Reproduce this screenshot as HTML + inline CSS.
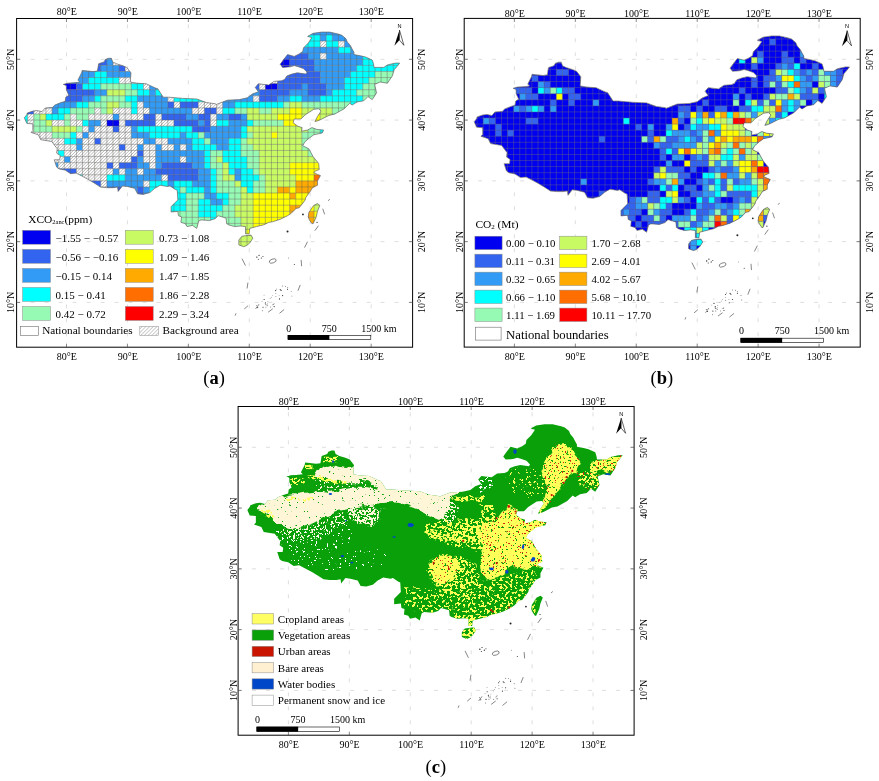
<!DOCTYPE html><html><head><meta charset="utf-8"><title>Figure</title><style>
html,body{margin:0;padding:0;background:#fff}svg{display:block}text{font-family:"Liberation Serif",serif;fill:#000}
</style></head><body>
<svg width="879" height="781" viewBox="0 0 879 781">
<rect width="879" height="781" fill="#fff"/>
<defs><path id="cn" d="M-39.6 64.4 L-37.2 61.4 L-36.6 59.6 L-31.1 57.7 L-26.8 57.1 L-21.9 58.3 L-18.9 54.7 L-11.6 54.1 L-9.1 51.7 L-3.0 49.2 L1.2 48.0 L1.8 43.8 L4.9 41.9 L2.4 36.5 L2.4 32.2 L-0.6 31.0 L3.7 29.8 L12.2 29.2 L15.8 28.6 L14.0 26.7 L17.7 19.4 L18.3 17.0 L29.2 18.2 L33.5 17.6 L34.7 10.3 L40.2 8.5 L41.4 6.1 L44.5 4.9 L47.5 4.9 L48.7 8.5 L52.4 10.3 L58.5 12.2 L62.8 14.0 L67.0 19.4 L66.4 28.6 L73.1 29.8 L82.3 30.4 L91.4 34.6 L93.8 35.3 L99.3 43.8 L104.8 43.8 L118.8 45.0 L132.8 45.6 L142.6 49.2 L151.7 50.4 L152.3 51.1 L163.3 46.8 L175.5 46.2 L183.4 44.4 L188.3 40.7 L194.4 38.3 L191.3 34.0 L194.4 30.4 L204.7 31.6 L210.2 28.0 L217.5 27.4 L220.6 26.1 L223.0 22.5 L227.9 20.7 L233.4 19.4 L241.9 20.7 L243.1 18.8 L239.5 15.2 L234.6 13.4 L230.3 12.2 L226.1 13.4 L218.7 14.0 L216.3 10.9 L219.3 6.7 L223.6 1.2 L230.3 3.0 L235.2 0.6 L238.8 -1.8 L239.5 -5.5 L244.3 -10.3 L248.0 -15.8 L243.7 -17.0 L249.2 -20.1 L257.7 -21.3 L265.7 -21.3 L274.2 -19.4 L277.8 -18.2 L282.1 -14.6 L283.3 -11.5 L286.4 -7.9 L288.2 -4.3 L290.0 -1.2 L290.0 1.2 L296.7 2.4 L301.6 3.6 L308.3 6.7 L309.5 10.3 L310.1 14.0 L319.9 14.0 L323.5 11.5 L331.5 9.7 L335.7 9.7 L333.3 12.8 L330.2 16.4 L328.4 22.5 L323.5 29.8 L316.2 28.6 L310.7 31.0 L312.6 39.5 L308.3 46.2 L304.0 43.2 L299.8 47.4 L293.1 48.6 L288.2 51.7 L285.8 49.8 L280.3 55.3 L270.5 60.8 L265.0 62.0 L256.5 66.3 L253.5 67.5 L251.0 68.1 L253.5 63.2 L257.1 57.7 L254.7 55.3 L249.8 55.9 L241.3 61.4 L237.0 65.6 L230.3 65.6 L229.1 69.3 L234.0 72.9 L238.2 74.2 L237.6 77.8 L243.7 76.6 L248.0 74.2 L252.9 76.0 L259.6 76.6 L258.3 79.6 L249.8 81.4 L245.5 84.5 L240.7 88.7 L238.8 92.4 L244.9 95.4 L249.2 103.3 L254.7 110.0 L255.3 116.1 L251.6 117.6 L249.8 119.1 L253.5 121.0 L256.5 122.2 L253.5 127.6 L253.5 131.9 L248.6 134.3 L245.5 139.2 L241.9 144.0 L241.3 146.5 L238.2 150.7 L235.2 154.4 L232.1 155.0 L227.3 159.9 L223.6 162.3 L216.3 165.9 L208.4 168.4 L204.7 169.0 L199.9 171.4 L192.5 173.2 L185.8 175.0 L185.2 180.5 L181.6 180.5 L181.6 173.2 L176.7 172.6 L170.6 173.2 L164.5 171.4 L162.7 170.2 L162.1 164.7 L154.2 162.3 L151.1 165.3 L145.6 167.1 L137.1 166.5 L134.7 167.8 L132.8 175.0 L128.6 172.0 L123.1 173.2 L121.3 170.2 L117.0 169.0 L117.6 163.5 L114.5 162.3 L113.9 158.0 L107.2 158.6 L107.2 153.2 L113.9 146.5 L113.3 136.8 L111.5 136.1 L106.0 132.5 L103.6 133.1 L96.3 131.9 L90.8 134.9 L85.9 139.2 L79.2 141.0 L73.7 140.4 L70.7 134.9 L63.4 133.1 L58.5 132.5 L54.2 138.0 L53.6 133.7 L49.4 134.3 L42.7 134.3 L36.6 133.7 L31.1 130.1 L25.0 126.4 L18.3 122.8 L12.2 119.7 L6.7 120.3 L1.2 116.7 L-4.9 115.5 L-7.3 113.7 L-9.7 106.4 L-4.3 106.4 L-3.7 102.1 L-7.3 99.7 L-6.7 95.4 L-12.2 88.1 L-23.2 86.3 L-25.6 81.4 L-32.9 79.0 L-31.1 77.2 L-31.1 70.5 L-37.2 69.9 L-39.6 64.4Z M174.9 186.6 L177.9 182.9 L181.6 182.3 L187.1 181.7 L188.9 184.8 L185.8 189.6 L182.8 192.1 L179.7 193.3 L174.9 191.5 L174.9 186.6Z M249.8 152.0 L253.5 150.1 L255.9 152.0 L253.5 158.0 L252.3 163.5 L249.2 170.2 L248.0 170.2 L245.5 166.5 L244.3 163.5 L244.9 159.2 L248.0 154.4 L249.8 152.0Z"/><clipPath id="clipa"><use href="#cn" transform="translate(-2.56 -5.90)"/></clipPath><clipPath id="clipb"><use href="#cn" transform="translate(-0.61 -2.01)"/></clipPath><clipPath id="clipc"><use href="#cn" transform="translate(-1.46 -1.70)"/></clipPath>
<pattern id="hatch" width="2.2" height="2.2" patternUnits="userSpaceOnUse" patternTransform="rotate(-45)"><rect width="2.2" height="2.2" fill="#fff"/><path d="M0 1.1H2.2" stroke="#8a8a8a" stroke-width="0.42"/></pattern>
<pattern id="hatch2" width="2.6" height="2.6" patternUnits="userSpaceOnUse" patternTransform="rotate(-45)"><rect width="2.6" height="2.6" fill="#fff"/><path d="M0 1.3H2.6" stroke="#8a8a8a" stroke-width="0.42"/></pattern>
<clipPath id="clipC"><use href="#cn" transform="translate(288.40 447.30) translate(-1.46 -1.70)"/></clipPath>
<filter id="s0" x="-5%" y="-5%" width="110%" height="110%"><feTurbulence type="fractalNoise" baseFrequency="0.12" numOctaves="2" seed="18" result="w"/><feDisplacementMap in="SourceGraphic" in2="w" scale="7" xChannelSelector="R" yChannelSelector="G" result="d"/><feTurbulence type="fractalNoise" baseFrequency="0.45" numOctaves="2" seed="11" result="n"/><feColorMatrix in="n" type="matrix" values="0 0 0 0 0 0 0 0 0 0 0 0 0 0 0 40 0 0 0 -10.10" result="m"/><feComposite in="d" in2="m" operator="in"/></filter><filter id="s1" x="-5%" y="-5%" width="110%" height="110%"><feTurbulence type="fractalNoise" baseFrequency="0.12" numOctaves="2" seed="19" result="w"/><feDisplacementMap in="SourceGraphic" in2="w" scale="7" xChannelSelector="R" yChannelSelector="G" result="d"/><feTurbulence type="fractalNoise" baseFrequency="0.45" numOctaves="2" seed="12" result="n"/><feColorMatrix in="n" type="matrix" values="0 0 0 0 0 0 0 0 0 0 0 0 0 0 0 40 0 0 0 -18.89" result="m"/><feComposite in="d" in2="m" operator="in"/></filter><filter id="s2" x="-5%" y="-5%" width="110%" height="110%"><feTurbulence type="fractalNoise" baseFrequency="0.12" numOctaves="2" seed="19" result="w"/><feDisplacementMap in="SourceGraphic" in2="w" scale="7" xChannelSelector="R" yChannelSelector="G" result="d"/><feTurbulence type="fractalNoise" baseFrequency="0.45" numOctaves="2" seed="12" result="n"/><feColorMatrix in="n" type="matrix" values="0 0 0 0 0 0 0 0 0 0 0 0 0 0 0 40 0 0 0 -21.29" result="m"/><feComposite in="d" in2="m" operator="in"/></filter><filter id="s3" x="-5%" y="-5%" width="110%" height="110%"><feTurbulence type="fractalNoise" baseFrequency="0.12" numOctaves="2" seed="19" result="w"/><feDisplacementMap in="SourceGraphic" in2="w" scale="7" xChannelSelector="R" yChannelSelector="G" result="d"/><feTurbulence type="fractalNoise" baseFrequency="0.45" numOctaves="2" seed="12" result="n"/><feColorMatrix in="n" type="matrix" values="0 0 0 0 0 0 0 0 0 0 0 0 0 0 0 40 0 0 0 -23.32" result="m"/><feComposite in="d" in2="m" operator="in"/></filter><filter id="s4" x="-5%" y="-5%" width="110%" height="110%"><feTurbulence type="fractalNoise" baseFrequency="0.12" numOctaves="2" seed="20" result="w"/><feDisplacementMap in="SourceGraphic" in2="w" scale="7" xChannelSelector="R" yChannelSelector="G" result="d"/><feTurbulence type="fractalNoise" baseFrequency="0.45" numOctaves="2" seed="13" result="n"/><feColorMatrix in="n" type="matrix" values="0 0 0 0 0 0 0 0 0 0 0 0 0 0 0 40 0 0 0 -14.34" result="m"/><feComposite in="d" in2="m" operator="in"/></filter><filter id="s5" x="-5%" y="-5%" width="110%" height="110%"><feTurbulence type="fractalNoise" baseFrequency="0.12" numOctaves="2" seed="21" result="w"/><feDisplacementMap in="SourceGraphic" in2="w" scale="7" xChannelSelector="R" yChannelSelector="G" result="d"/><feTurbulence type="fractalNoise" baseFrequency="0.45" numOctaves="2" seed="14" result="n"/><feColorMatrix in="n" type="matrix" values="0 0 0 0 0 0 0 0 0 0 0 0 0 0 0 40 0 0 0 -26.81" result="m"/><feComposite in="d" in2="m" operator="in"/></filter><filter id="s6" x="-5%" y="-5%" width="110%" height="110%"><feTurbulence type="fractalNoise" baseFrequency="0.12" numOctaves="2" seed="21" result="w"/><feDisplacementMap in="SourceGraphic" in2="w" scale="7" xChannelSelector="R" yChannelSelector="G" result="d"/><feTurbulence type="fractalNoise" baseFrequency="0.45" numOctaves="2" seed="14" result="n"/><feColorMatrix in="n" type="matrix" values="0 0 0 0 0 0 0 0 0 0 0 0 0 0 0 40 0 0 0 -28.00" result="m"/><feComposite in="d" in2="m" operator="in"/></filter><filter id="s7" x="-5%" y="-5%" width="110%" height="110%"><feTurbulence type="fractalNoise" baseFrequency="0.12" numOctaves="2" seed="21" result="w"/><feDisplacementMap in="SourceGraphic" in2="w" scale="7" xChannelSelector="R" yChannelSelector="G" result="d"/><feTurbulence type="fractalNoise" baseFrequency="0.45" numOctaves="2" seed="14" result="n"/><feColorMatrix in="n" type="matrix" values="0 0 0 0 0 0 0 0 0 0 0 0 0 0 0 40 0 0 0 -23.66" result="m"/><feComposite in="d" in2="m" operator="in"/></filter><filter id="s8" x="-5%" y="-5%" width="110%" height="110%"><feTurbulence type="fractalNoise" baseFrequency="0.12" numOctaves="2" seed="22" result="w"/><feDisplacementMap in="SourceGraphic" in2="w" scale="7" xChannelSelector="R" yChannelSelector="G" result="d"/><feTurbulence type="fractalNoise" baseFrequency="0.45" numOctaves="2" seed="15" result="n"/><feColorMatrix in="n" type="matrix" values="0 0 0 0 0 0 0 0 0 0 0 0 0 0 0 40 0 0 0 -12.49" result="m"/><feComposite in="d" in2="m" operator="in"/></filter><filter id="s9" x="-5%" y="-5%" width="110%" height="110%"><feTurbulence type="fractalNoise" baseFrequency="0.12" numOctaves="2" seed="22" result="w"/><feDisplacementMap in="SourceGraphic" in2="w" scale="7" xChannelSelector="R" yChannelSelector="G" result="d"/><feTurbulence type="fractalNoise" baseFrequency="0.45" numOctaves="2" seed="15" result="n"/><feColorMatrix in="n" type="matrix" values="0 0 0 0 0 0 0 0 0 0 0 0 0 0 0 40 0 0 0 -14.34" result="m"/><feComposite in="d" in2="m" operator="in"/></filter><filter id="s10" x="-5%" y="-5%" width="110%" height="110%"><feTurbulence type="fractalNoise" baseFrequency="0.12" numOctaves="2" seed="22" result="w"/><feDisplacementMap in="SourceGraphic" in2="w" scale="7" xChannelSelector="R" yChannelSelector="G" result="d"/><feTurbulence type="fractalNoise" baseFrequency="0.38" numOctaves="2" seed="15" result="n"/><feColorMatrix in="n" type="matrix" values="0 0 0 0 0 0 0 0 0 0 0 0 0 0 0 40 0 0 0 -20.67" result="m"/><feComposite in="d" in2="m" operator="in"/></filter><filter id="s11" x="-5%" y="-5%" width="110%" height="110%"><feTurbulence type="fractalNoise" baseFrequency="0.12" numOctaves="2" seed="22" result="w"/><feDisplacementMap in="SourceGraphic" in2="w" scale="7" xChannelSelector="R" yChannelSelector="G" result="d"/><feTurbulence type="fractalNoise" baseFrequency="0.45" numOctaves="2" seed="15" result="n"/><feColorMatrix in="n" type="matrix" values="0 0 0 0 0 0 0 0 0 0 0 0 0 0 0 40 0 0 0 -12.20" result="m"/><feComposite in="d" in2="m" operator="in"/></filter><filter id="s12" x="-5%" y="-5%" width="110%" height="110%"><feTurbulence type="fractalNoise" baseFrequency="0.12" numOctaves="2" seed="22" result="w"/><feDisplacementMap in="SourceGraphic" in2="w" scale="7" xChannelSelector="R" yChannelSelector="G" result="d"/><feTurbulence type="fractalNoise" baseFrequency="0.45" numOctaves="2" seed="15" result="n"/><feColorMatrix in="n" type="matrix" values="0 0 0 0 0 0 0 0 0 0 0 0 0 0 0 40 0 0 0 -13.07" result="m"/><feComposite in="d" in2="m" operator="in"/></filter><filter id="s13" x="-5%" y="-5%" width="110%" height="110%"><feTurbulence type="fractalNoise" baseFrequency="0.12" numOctaves="2" seed="22" result="w"/><feDisplacementMap in="SourceGraphic" in2="w" scale="7" xChannelSelector="R" yChannelSelector="G" result="d"/><feTurbulence type="fractalNoise" baseFrequency="0.38" numOctaves="2" seed="15" result="n"/><feColorMatrix in="n" type="matrix" values="0 0 0 0 0 0 0 0 0 0 0 0 0 0 0 40 0 0 0 -20.42" result="m"/><feComposite in="d" in2="m" operator="in"/></filter><filter id="s14" x="-5%" y="-5%" width="110%" height="110%"><feTurbulence type="fractalNoise" baseFrequency="0.12" numOctaves="2" seed="22" result="w"/><feDisplacementMap in="SourceGraphic" in2="w" scale="7" xChannelSelector="R" yChannelSelector="G" result="d"/><feTurbulence type="fractalNoise" baseFrequency="0.38" numOctaves="2" seed="15" result="n"/><feColorMatrix in="n" type="matrix" values="0 0 0 0 0 0 0 0 0 0 0 0 0 0 0 40 0 0 0 -15.27" result="m"/><feComposite in="d" in2="m" operator="in"/></filter><filter id="s15" x="-5%" y="-5%" width="110%" height="110%"><feTurbulence type="fractalNoise" baseFrequency="0.12" numOctaves="2" seed="22" result="w"/><feDisplacementMap in="SourceGraphic" in2="w" scale="7" xChannelSelector="R" yChannelSelector="G" result="d"/><feTurbulence type="fractalNoise" baseFrequency="0.38" numOctaves="2" seed="15" result="n"/><feColorMatrix in="n" type="matrix" values="0 0 0 0 0 0 0 0 0 0 0 0 0 0 0 40 0 0 0 -18.89" result="m"/><feComposite in="d" in2="m" operator="in"/></filter><filter id="s16" x="-5%" y="-5%" width="110%" height="110%"><feTurbulence type="fractalNoise" baseFrequency="0.12" numOctaves="2" seed="22" result="w"/><feDisplacementMap in="SourceGraphic" in2="w" scale="7" xChannelSelector="R" yChannelSelector="G" result="d"/><feTurbulence type="fractalNoise" baseFrequency="0.38" numOctaves="2" seed="15" result="n"/><feColorMatrix in="n" type="matrix" values="0 0 0 0 0 0 0 0 0 0 0 0 0 0 0 40 0 0 0 -18.29" result="m"/><feComposite in="d" in2="m" operator="in"/></filter><filter id="s17" x="-5%" y="-5%" width="110%" height="110%"><feTurbulence type="fractalNoise" baseFrequency="0.12" numOctaves="2" seed="22" result="w"/><feDisplacementMap in="SourceGraphic" in2="w" scale="7" xChannelSelector="R" yChannelSelector="G" result="d"/><feTurbulence type="fractalNoise" baseFrequency="0.38" numOctaves="2" seed="15" result="n"/><feColorMatrix in="n" type="matrix" values="0 0 0 0 0 0 0 0 0 0 0 0 0 0 0 40 0 0 0 -19.48" result="m"/><feComposite in="d" in2="m" operator="in"/></filter><filter id="s18" x="-5%" y="-5%" width="110%" height="110%"><feTurbulence type="fractalNoise" baseFrequency="0.12" numOctaves="2" seed="22" result="w"/><feDisplacementMap in="SourceGraphic" in2="w" scale="7" xChannelSelector="R" yChannelSelector="G" result="d"/><feTurbulence type="fractalNoise" baseFrequency="0.38" numOctaves="2" seed="15" result="n"/><feColorMatrix in="n" type="matrix" values="0 0 0 0 0 0 0 0 0 0 0 0 0 0 0 40 0 0 0 -22.47" result="m"/><feComposite in="d" in2="m" operator="in"/></filter><filter id="s19" x="-5%" y="-5%" width="110%" height="110%"><feTurbulence type="fractalNoise" baseFrequency="0.12" numOctaves="2" seed="22" result="w"/><feDisplacementMap in="SourceGraphic" in2="w" scale="7" xChannelSelector="R" yChannelSelector="G" result="d"/><feTurbulence type="fractalNoise" baseFrequency="0.38" numOctaves="2" seed="15" result="n"/><feColorMatrix in="n" type="matrix" values="0 0 0 0 0 0 0 0 0 0 0 0 0 0 0 40 0 0 0 -23.32" result="m"/><feComposite in="d" in2="m" operator="in"/></filter><filter id="s20" x="-5%" y="-5%" width="110%" height="110%"><feTurbulence type="fractalNoise" baseFrequency="0.12" numOctaves="2" seed="22" result="w"/><feDisplacementMap in="SourceGraphic" in2="w" scale="7" xChannelSelector="R" yChannelSelector="G" result="d"/><feTurbulence type="fractalNoise" baseFrequency="0.38" numOctaves="2" seed="15" result="n"/><feColorMatrix in="n" type="matrix" values="0 0 0 0 0 0 0 0 0 0 0 0 0 0 0 40 0 0 0 -25.46" result="m"/><feComposite in="d" in2="m" operator="in"/></filter><filter id="s21" x="-5%" y="-5%" width="110%" height="110%"><feTurbulence type="fractalNoise" baseFrequency="0.12" numOctaves="2" seed="22" result="w"/><feDisplacementMap in="SourceGraphic" in2="w" scale="7" xChannelSelector="R" yChannelSelector="G" result="d"/><feTurbulence type="fractalNoise" baseFrequency="0.38" numOctaves="2" seed="15" result="n"/><feColorMatrix in="n" type="matrix" values="0 0 0 0 0 0 0 0 0 0 0 0 0 0 0 40 0 0 0 -22.02" result="m"/><feComposite in="d" in2="m" operator="in"/></filter><filter id="s22" x="-5%" y="-5%" width="110%" height="110%"><feTurbulence type="fractalNoise" baseFrequency="0.12" numOctaves="2" seed="22" result="w"/><feDisplacementMap in="SourceGraphic" in2="w" scale="7" xChannelSelector="R" yChannelSelector="G" result="d"/><feTurbulence type="fractalNoise" baseFrequency="0.38" numOctaves="2" seed="15" result="n"/><feColorMatrix in="n" type="matrix" values="0 0 0 0 0 0 0 0 0 0 0 0 0 0 0 40 0 0 0 -16.94" result="m"/><feComposite in="d" in2="m" operator="in"/></filter><filter id="s23" x="-5%" y="-5%" width="110%" height="110%"><feTurbulence type="fractalNoise" baseFrequency="0.12" numOctaves="2" seed="22" result="w"/><feDisplacementMap in="SourceGraphic" in2="w" scale="7" xChannelSelector="R" yChannelSelector="G" result="d"/><feTurbulence type="fractalNoise" baseFrequency="0.38" numOctaves="2" seed="15" result="n"/><feColorMatrix in="n" type="matrix" values="0 0 0 0 0 0 0 0 0 0 0 0 0 0 0 40 0 0 0 -20.06" result="m"/><feComposite in="d" in2="m" operator="in"/></filter><filter id="s24" x="-5%" y="-5%" width="110%" height="110%"><feTurbulence type="fractalNoise" baseFrequency="0.12" numOctaves="2" seed="23" result="w"/><feDisplacementMap in="SourceGraphic" in2="w" scale="7" xChannelSelector="R" yChannelSelector="G" result="d"/><feTurbulence type="fractalNoise" baseFrequency="0.60" numOctaves="2" seed="16" result="n"/><feColorMatrix in="n" type="matrix" values="0 0 0 0 0 0 0 0 0 0 0 0 0 0 0 40 0 0 0 -28.00" result="m"/><feComposite in="d" in2="m" operator="in"/></filter>
</defs>
<path d="M66.50 18.50V347.20M127.43 18.50V347.20M188.36 18.50V347.20M249.29 18.50V347.20M310.22 18.50V347.20M371.15 18.50V347.20" stroke="#c8c8c8" stroke-width="0.6" stroke-dasharray="3.9 10.1" stroke-dashoffset="8.1" fill="none"/><path d="M16.60 302.42H412.60M16.60 241.64H412.60M16.60 180.86H412.60M16.60 120.08H412.60M16.60 59.30H412.60" stroke="#c8c8c8" stroke-width="0.6" stroke-dasharray="3.9 10.1" fill="none"/>
<g transform="translate(66.50 59.30)">
<g clip-path="url(#clipa)"><use href="#cn" transform="translate(-2.56 -5.90)" fill="#fff"/><rect x="241.47" y="-30.39" width="36.61" height="6.13" fill="#329bf5"/><rect x="241.47" y="-24.31" width="12.24" height="6.13" fill="#00ffff"/><rect x="253.66" y="-24.31" width="6.14" height="6.13" fill="#329bf5"/><rect x="259.75" y="-24.31" width="6.14" height="6.13" fill="#00ffff"/><rect x="265.84" y="-24.31" width="18.33" height="6.13" fill="#329bf5"/><rect x="235.38" y="-18.23" width="18.33" height="6.13" fill="#00ffff"/><rect x="253.66" y="-18.23" width="6.14" height="6.13" fill="url(#hatch)"/><rect x="259.75" y="-18.23" width="12.24" height="6.13" fill="#00ffff"/><rect x="271.94" y="-18.23" width="6.14" height="6.13" fill="url(#hatch)"/><rect x="278.03" y="-18.23" width="6.14" height="6.13" fill="#329bf5"/><rect x="229.28" y="-12.16" width="42.70" height="6.13" fill="#329bf5"/><rect x="271.94" y="-12.16" width="12.24" height="6.13" fill="#00ffff"/><rect x="284.12" y="-12.16" width="6.14" height="6.13" fill="#329bf5"/><rect x="40.40" y="-6.08" width="6.14" height="6.13" fill="#329bf5"/><rect x="217.10" y="-6.08" width="24.42" height="6.13" fill="#3264f0"/><rect x="241.47" y="-6.08" width="12.24" height="6.13" fill="#329bf5"/><rect x="253.66" y="-6.08" width="6.14" height="6.13" fill="url(#hatch)"/><rect x="259.75" y="-6.08" width="36.61" height="6.13" fill="#329bf5"/><rect x="296.31" y="-6.08" width="12.24" height="6.13" fill="#00ffff"/><rect x="28.21" y="0.00" width="12.24" height="6.13" fill="#3264f0"/><rect x="40.40" y="0.00" width="6.14" height="6.13" fill="#329bf5"/><rect x="46.49" y="0.00" width="12.24" height="6.13" fill="url(#hatch)"/><rect x="211.00" y="0.00" width="12.24" height="6.13" fill="#0000f0"/><rect x="223.19" y="0.00" width="24.42" height="6.13" fill="#3264f0"/><rect x="247.56" y="0.00" width="48.79" height="6.13" fill="#329bf5"/><rect x="296.31" y="0.00" width="12.24" height="6.13" fill="#00ffff"/><rect x="320.68" y="0.00" width="18.33" height="6.13" fill="#00ffff"/><rect x="9.94" y="6.08" width="12.24" height="6.13" fill="#329bf5"/><rect x="22.12" y="6.08" width="12.24" height="6.13" fill="#3264f0"/><rect x="34.31" y="6.08" width="18.33" height="6.13" fill="#329bf5"/><rect x="52.59" y="6.08" width="6.14" height="6.13" fill="#3264f0"/><rect x="58.68" y="6.08" width="6.14" height="6.13" fill="url(#hatch)"/><rect x="211.00" y="6.08" width="12.24" height="6.13" fill="#0000f0"/><rect x="223.19" y="6.08" width="24.42" height="6.13" fill="#3264f0"/><rect x="247.56" y="6.08" width="42.70" height="6.13" fill="#329bf5"/><rect x="290.21" y="6.08" width="42.70" height="6.13" fill="#00ffff"/><rect x="9.94" y="12.16" width="18.33" height="6.13" fill="#329bf5"/><rect x="28.21" y="12.16" width="12.24" height="6.13" fill="#00ffff"/><rect x="40.40" y="12.16" width="24.42" height="6.13" fill="#329bf5"/><rect x="217.10" y="12.16" width="36.61" height="6.13" fill="#3264f0"/><rect x="253.66" y="12.16" width="30.52" height="6.13" fill="#329bf5"/><rect x="284.12" y="12.16" width="24.42" height="6.13" fill="#00ffff"/><rect x="308.49" y="12.16" width="24.42" height="6.13" fill="#96fab4"/><rect x="-2.25" y="18.23" width="6.14" height="6.13" fill="#0000f0"/><rect x="3.84" y="18.23" width="18.33" height="6.13" fill="#329bf5"/><rect x="22.12" y="18.23" width="30.52" height="6.13" fill="#00ffff"/><rect x="52.59" y="18.23" width="18.33" height="6.13" fill="url(#hatch)"/><rect x="70.87" y="18.23" width="6.14" height="6.13" fill="#00ffff"/><rect x="204.91" y="18.23" width="6.14" height="6.13" fill="url(#hatch)"/><rect x="211.00" y="18.23" width="42.70" height="6.13" fill="#3264f0"/><rect x="253.66" y="18.23" width="24.42" height="6.13" fill="#329bf5"/><rect x="278.03" y="18.23" width="24.42" height="6.13" fill="#00ffff"/><rect x="302.40" y="18.23" width="30.52" height="6.13" fill="#96fab4"/><rect x="-8.34" y="24.31" width="18.33" height="6.13" fill="#0000f0"/><rect x="9.94" y="24.31" width="6.14" height="6.13" fill="#3264f0"/><rect x="16.03" y="24.31" width="18.33" height="6.13" fill="#00ffff"/><rect x="34.31" y="24.31" width="30.52" height="6.13" fill="#96fab4"/><rect x="64.77" y="24.31" width="12.24" height="6.13" fill="#00ffff"/><rect x="76.96" y="24.31" width="6.14" height="6.13" fill="url(#hatch)"/><rect x="83.05" y="24.31" width="12.24" height="6.13" fill="#329bf5"/><rect x="186.63" y="24.31" width="6.14" height="6.13" fill="#3264f0"/><rect x="192.73" y="24.31" width="6.14" height="6.13" fill="url(#hatch)"/><rect x="198.82" y="24.31" width="12.24" height="6.13" fill="#0000f0"/><rect x="211.00" y="24.31" width="24.42" height="6.13" fill="#3264f0"/><rect x="235.38" y="24.31" width="6.14" height="6.13" fill="#329bf5"/><rect x="241.47" y="24.31" width="18.33" height="6.13" fill="#3264f0"/><rect x="259.75" y="24.31" width="18.33" height="6.13" fill="#329bf5"/><rect x="278.03" y="24.31" width="18.33" height="6.13" fill="#00ffff"/><rect x="296.31" y="24.31" width="18.33" height="6.13" fill="#96fab4"/><rect x="-2.25" y="30.39" width="30.52" height="6.13" fill="#3264f0"/><rect x="28.21" y="30.39" width="12.24" height="6.13" fill="#329bf5"/><rect x="40.40" y="30.39" width="18.33" height="6.13" fill="#c8fa64"/><rect x="58.68" y="30.39" width="12.24" height="6.13" fill="#96fab4"/><rect x="70.87" y="30.39" width="12.24" height="6.13" fill="#00ffff"/><rect x="83.05" y="30.39" width="6.14" height="6.13" fill="#329bf5"/><rect x="89.14" y="30.39" width="6.14" height="6.13" fill="#00ffff"/><rect x="180.54" y="30.39" width="12.24" height="6.13" fill="#329bf5"/><rect x="192.73" y="30.39" width="30.52" height="6.13" fill="#3264f0"/><rect x="223.19" y="30.39" width="18.33" height="6.13" fill="#329bf5"/><rect x="241.47" y="30.39" width="18.33" height="6.13" fill="#3264f0"/><rect x="259.75" y="30.39" width="6.14" height="6.13" fill="#329bf5"/><rect x="265.84" y="30.39" width="24.42" height="6.13" fill="#00ffff"/><rect x="290.21" y="30.39" width="24.42" height="6.13" fill="#96fab4"/><rect x="-8.34" y="36.47" width="24.42" height="6.13" fill="#3264f0"/><rect x="16.03" y="36.47" width="12.24" height="6.13" fill="#329bf5"/><rect x="28.21" y="36.47" width="6.14" height="6.13" fill="#00ffff"/><rect x="34.31" y="36.47" width="24.42" height="6.13" fill="#96fab4"/><rect x="58.68" y="36.47" width="12.24" height="6.13" fill="#00ffff"/><rect x="70.87" y="36.47" width="30.52" height="6.13" fill="#329bf5"/><rect x="101.33" y="36.47" width="6.14" height="6.13" fill="url(#hatch)"/><rect x="107.42" y="36.47" width="30.52" height="6.13" fill="#00ffff"/><rect x="156.17" y="36.47" width="30.52" height="6.13" fill="#329bf5"/><rect x="186.63" y="36.47" width="6.14" height="6.13" fill="url(#hatch)"/><rect x="192.73" y="36.47" width="18.33" height="6.13" fill="#3264f0"/><rect x="211.00" y="36.47" width="12.24" height="6.13" fill="#329bf5"/><rect x="223.19" y="36.47" width="12.24" height="6.13" fill="#00ffff"/><rect x="235.38" y="36.47" width="18.33" height="6.13" fill="#329bf5"/><rect x="253.66" y="36.47" width="42.70" height="6.13" fill="#00ffff"/><rect x="296.31" y="36.47" width="12.24" height="6.13" fill="#96fab4"/><rect x="-20.53" y="42.55" width="30.52" height="6.13" fill="#329bf5"/><rect x="9.94" y="42.55" width="12.24" height="6.13" fill="#00ffff"/><rect x="22.12" y="42.55" width="18.33" height="6.13" fill="#96fab4"/><rect x="40.40" y="42.55" width="12.24" height="6.13" fill="#c8fa64"/><rect x="52.59" y="42.55" width="12.24" height="6.13" fill="#96fab4"/><rect x="64.77" y="42.55" width="6.14" height="6.13" fill="#00ffff"/><rect x="70.87" y="42.55" width="6.14" height="6.13" fill="url(#hatch)"/><rect x="76.96" y="42.55" width="24.42" height="6.13" fill="#329bf5"/><rect x="101.33" y="42.55" width="6.14" height="6.13" fill="#3264f0"/><rect x="107.42" y="42.55" width="6.14" height="6.13" fill="url(#hatch)"/><rect x="113.52" y="42.55" width="18.33" height="6.13" fill="#3264f0"/><rect x="131.80" y="42.55" width="24.42" height="6.13" fill="url(#hatch)"/><rect x="156.17" y="42.55" width="12.24" height="6.13" fill="#329bf5"/><rect x="168.35" y="42.55" width="48.79" height="6.13" fill="#00ffff"/><rect x="217.10" y="42.55" width="6.14" height="6.13" fill="#96fab4"/><rect x="223.19" y="42.55" width="12.24" height="6.13" fill="#c8fa64"/><rect x="235.38" y="42.55" width="48.79" height="6.13" fill="#96fab4"/><rect x="284.12" y="42.55" width="6.14" height="6.13" fill="#00ffff"/><rect x="-44.90" y="48.62" width="12.24" height="6.13" fill="#3264f0"/><rect x="-32.72" y="48.62" width="18.33" height="6.13" fill="url(#hatch)"/><rect x="-14.44" y="48.62" width="6.14" height="6.13" fill="#329bf5"/><rect x="-8.34" y="48.62" width="12.24" height="6.13" fill="#00ffff"/><rect x="3.84" y="48.62" width="24.42" height="6.13" fill="#96fab4"/><rect x="28.21" y="48.62" width="6.14" height="6.13" fill="url(#hatch)"/><rect x="34.31" y="48.62" width="6.14" height="6.13" fill="#96fab4"/><rect x="40.40" y="48.62" width="6.14" height="6.13" fill="#c8fa64"/><rect x="46.49" y="48.62" width="18.33" height="6.13" fill="url(#hatch)"/><rect x="64.77" y="48.62" width="6.14" height="6.13" fill="#00ffff"/><rect x="70.87" y="48.62" width="12.24" height="6.13" fill="url(#hatch)"/><rect x="83.05" y="48.62" width="42.70" height="6.13" fill="#329bf5"/><rect x="125.70" y="48.62" width="12.24" height="6.13" fill="url(#hatch)"/><rect x="137.89" y="48.62" width="12.24" height="6.13" fill="#3264f0"/><rect x="150.07" y="48.62" width="6.14" height="6.13" fill="url(#hatch)"/><rect x="156.17" y="48.62" width="12.24" height="6.13" fill="#00ffff"/><rect x="168.35" y="48.62" width="12.24" height="6.13" fill="#96fab4"/><rect x="180.54" y="48.62" width="12.24" height="6.13" fill="#c8fa64"/><rect x="192.73" y="48.62" width="12.24" height="6.13" fill="#96fab4"/><rect x="204.91" y="48.62" width="18.33" height="6.13" fill="#c8fa64"/><rect x="223.19" y="48.62" width="12.24" height="6.13" fill="#ffff00"/><rect x="235.38" y="48.62" width="12.24" height="6.13" fill="#c8fa64"/><rect x="247.56" y="48.62" width="6.14" height="6.13" fill="#96fab4"/><rect x="253.66" y="48.62" width="12.24" height="6.13" fill="#c8fa64"/><rect x="265.84" y="48.62" width="12.24" height="6.13" fill="#96fab4"/><rect x="-44.90" y="54.70" width="6.14" height="6.13" fill="#00ffff"/><rect x="-38.81" y="54.70" width="6.14" height="6.13" fill="url(#hatch)"/><rect x="-32.72" y="54.70" width="6.14" height="6.13" fill="#96fab4"/><rect x="-26.62" y="54.70" width="6.14" height="6.13" fill="#c8fa64"/><rect x="-20.53" y="54.70" width="18.33" height="6.13" fill="#00ffff"/><rect x="-2.25" y="54.70" width="6.14" height="6.13" fill="#96fab4"/><rect x="3.84" y="54.70" width="6.14" height="6.13" fill="url(#hatch)"/><rect x="9.94" y="54.70" width="12.24" height="6.13" fill="#96fab4"/><rect x="22.12" y="54.70" width="24.42" height="6.13" fill="url(#hatch)"/><rect x="46.49" y="54.70" width="6.14" height="6.13" fill="#329bf5"/><rect x="52.59" y="54.70" width="24.42" height="6.13" fill="url(#hatch)"/><rect x="76.96" y="54.70" width="12.24" height="6.13" fill="#3264f0"/><rect x="89.14" y="54.70" width="6.14" height="6.13" fill="url(#hatch)"/><rect x="95.24" y="54.70" width="24.42" height="6.13" fill="#3264f0"/><rect x="119.61" y="54.70" width="12.24" height="6.13" fill="#329bf5"/><rect x="131.80" y="54.70" width="12.24" height="6.13" fill="#3264f0"/><rect x="143.98" y="54.70" width="6.14" height="6.13" fill="url(#hatch)"/><rect x="150.07" y="54.70" width="12.24" height="6.13" fill="#329bf5"/><rect x="162.26" y="54.70" width="12.24" height="6.13" fill="#3264f0"/><rect x="174.45" y="54.70" width="6.14" height="6.13" fill="#329bf5"/><rect x="180.54" y="54.70" width="30.52" height="6.13" fill="#c8fa64"/><rect x="211.00" y="54.70" width="24.42" height="6.13" fill="#ffff00"/><rect x="235.38" y="54.70" width="6.14" height="6.13" fill="#c8fa64"/><rect x="247.56" y="54.70" width="6.14" height="6.13" fill="#ffff00"/><rect x="253.66" y="54.70" width="12.24" height="6.13" fill="#c8fa64"/><rect x="265.84" y="54.70" width="6.14" height="6.13" fill="#96fab4"/><rect x="-44.90" y="60.78" width="6.14" height="6.13" fill="#00ffff"/><rect x="-38.81" y="60.78" width="6.14" height="6.13" fill="url(#hatch)"/><rect x="-32.72" y="60.78" width="12.24" height="6.13" fill="#96fab4"/><rect x="-20.53" y="60.78" width="6.14" height="6.13" fill="#c8fa64"/><rect x="-14.44" y="60.78" width="12.24" height="6.13" fill="url(#hatch)"/><rect x="-2.25" y="60.78" width="6.14" height="6.13" fill="#96fab4"/><rect x="3.84" y="60.78" width="12.24" height="6.13" fill="url(#hatch)"/><rect x="16.03" y="60.78" width="6.14" height="6.13" fill="#00ffff"/><rect x="22.12" y="60.78" width="12.24" height="6.13" fill="#329bf5"/><rect x="34.31" y="60.78" width="6.14" height="6.13" fill="url(#hatch)"/><rect x="40.40" y="60.78" width="12.24" height="6.13" fill="#0000f0"/><rect x="52.59" y="60.78" width="6.14" height="6.13" fill="url(#hatch)"/><rect x="58.68" y="60.78" width="30.52" height="6.13" fill="#3264f0"/><rect x="89.14" y="60.78" width="18.33" height="6.13" fill="url(#hatch)"/><rect x="107.42" y="60.78" width="24.42" height="6.13" fill="#3264f0"/><rect x="131.80" y="60.78" width="6.14" height="6.13" fill="#329bf5"/><rect x="137.89" y="60.78" width="6.14" height="6.13" fill="#3264f0"/><rect x="143.98" y="60.78" width="6.14" height="6.13" fill="url(#hatch)"/><rect x="150.07" y="60.78" width="12.24" height="6.13" fill="#00ffff"/><rect x="162.26" y="60.78" width="18.33" height="6.13" fill="#329bf5"/><rect x="180.54" y="60.78" width="6.14" height="6.13" fill="#00ffff"/><rect x="186.63" y="60.78" width="30.52" height="6.13" fill="#96fab4"/><rect x="217.10" y="60.78" width="18.33" height="6.13" fill="#ffff00"/><rect x="247.56" y="60.78" width="6.14" height="6.13" fill="#ffff00"/><rect x="-38.81" y="66.86" width="6.14" height="6.13" fill="url(#hatch)"/><rect x="-32.72" y="66.86" width="18.33" height="6.13" fill="#96fab4"/><rect x="-14.44" y="66.86" width="24.42" height="6.13" fill="#c8fa64"/><rect x="9.94" y="66.86" width="6.14" height="6.13" fill="#96fab4"/><rect x="16.03" y="66.86" width="6.14" height="6.13" fill="url(#hatch)"/><rect x="22.12" y="66.86" width="6.14" height="6.13" fill="#329bf5"/><rect x="28.21" y="66.86" width="18.33" height="6.13" fill="url(#hatch)"/><rect x="46.49" y="66.86" width="6.14" height="6.13" fill="#3264f0"/><rect x="52.59" y="66.86" width="12.24" height="6.13" fill="url(#hatch)"/><rect x="64.77" y="66.86" width="6.14" height="6.13" fill="#329bf5"/><rect x="70.87" y="66.86" width="54.89" height="6.13" fill="#00ffff"/><rect x="125.70" y="66.86" width="18.33" height="6.13" fill="#3264f0"/><rect x="143.98" y="66.86" width="30.52" height="6.13" fill="#329bf5"/><rect x="174.45" y="66.86" width="6.14" height="6.13" fill="#00ffff"/><rect x="180.54" y="66.86" width="60.98" height="6.13" fill="#c8fa64"/><rect x="241.47" y="66.86" width="12.24" height="6.13" fill="#96fab4"/><rect x="253.66" y="66.86" width="6.14" height="6.13" fill="#00ffff"/><rect x="-38.81" y="72.94" width="24.42" height="6.13" fill="url(#hatch)"/><rect x="-14.44" y="72.94" width="18.33" height="6.13" fill="#96fab4"/><rect x="3.84" y="72.94" width="6.14" height="6.13" fill="#00ffff"/><rect x="9.94" y="72.94" width="6.14" height="6.13" fill="url(#hatch)"/><rect x="16.03" y="72.94" width="6.14" height="6.13" fill="#329bf5"/><rect x="22.12" y="72.94" width="42.70" height="6.13" fill="url(#hatch)"/><rect x="64.77" y="72.94" width="18.33" height="6.13" fill="#329bf5"/><rect x="83.05" y="72.94" width="30.52" height="6.13" fill="#00ffff"/><rect x="113.52" y="72.94" width="6.14" height="6.13" fill="#329bf5"/><rect x="119.61" y="72.94" width="12.24" height="6.13" fill="#00ffff"/><rect x="131.80" y="72.94" width="6.14" height="6.13" fill="#96fab4"/><rect x="137.89" y="72.94" width="36.61" height="6.13" fill="#329bf5"/><rect x="174.45" y="72.94" width="6.14" height="6.13" fill="#00ffff"/><rect x="180.54" y="72.94" width="6.14" height="6.13" fill="#96fab4"/><rect x="186.63" y="72.94" width="18.33" height="6.13" fill="#c8fa64"/><rect x="204.91" y="72.94" width="6.14" height="6.13" fill="#ffff00"/><rect x="211.00" y="72.94" width="24.42" height="6.13" fill="#c8fa64"/><rect x="235.38" y="72.94" width="18.33" height="6.13" fill="#96fab4"/><rect x="253.66" y="72.94" width="6.14" height="6.13" fill="#00ffff"/><rect x="-26.62" y="79.01" width="24.42" height="6.13" fill="url(#hatch)"/><rect x="-2.25" y="79.01" width="12.24" height="6.13" fill="#00ffff"/><rect x="9.94" y="79.01" width="6.14" height="6.13" fill="#329bf5"/><rect x="16.03" y="79.01" width="12.24" height="6.13" fill="url(#hatch)"/><rect x="28.21" y="79.01" width="6.14" height="6.13" fill="#3264f0"/><rect x="34.31" y="79.01" width="42.70" height="6.13" fill="url(#hatch)"/><rect x="76.96" y="79.01" width="12.24" height="6.13" fill="#329bf5"/><rect x="89.14" y="79.01" width="12.24" height="6.13" fill="url(#hatch)"/><rect x="101.33" y="79.01" width="24.42" height="6.13" fill="#329bf5"/><rect x="125.70" y="79.01" width="12.24" height="6.13" fill="#00ffff"/><rect x="137.89" y="79.01" width="6.14" height="6.13" fill="#96fab4"/><rect x="143.98" y="79.01" width="18.33" height="6.13" fill="#329bf5"/><rect x="162.26" y="79.01" width="12.24" height="6.13" fill="#00ffff"/><rect x="174.45" y="79.01" width="6.14" height="6.13" fill="#96fab4"/><rect x="180.54" y="79.01" width="54.89" height="6.13" fill="#c8fa64"/><rect x="235.38" y="79.01" width="12.24" height="6.13" fill="#96fab4"/><rect x="-14.44" y="85.09" width="24.42" height="6.13" fill="url(#hatch)"/><rect x="9.94" y="85.09" width="6.14" height="6.13" fill="#329bf5"/><rect x="16.03" y="85.09" width="36.61" height="6.13" fill="url(#hatch)"/><rect x="52.59" y="85.09" width="6.14" height="6.13" fill="#3264f0"/><rect x="58.68" y="85.09" width="12.24" height="6.13" fill="url(#hatch)"/><rect x="70.87" y="85.09" width="6.14" height="6.13" fill="#329bf5"/><rect x="76.96" y="85.09" width="12.24" height="6.13" fill="url(#hatch)"/><rect x="89.14" y="85.09" width="6.14" height="6.13" fill="#329bf5"/><rect x="95.24" y="85.09" width="12.24" height="6.13" fill="url(#hatch)"/><rect x="107.42" y="85.09" width="6.14" height="6.13" fill="#329bf5"/><rect x="113.52" y="85.09" width="6.14" height="6.13" fill="url(#hatch)"/><rect x="119.61" y="85.09" width="6.14" height="6.13" fill="#329bf5"/><rect x="125.70" y="85.09" width="24.42" height="6.13" fill="#00ffff"/><rect x="150.07" y="85.09" width="12.24" height="6.13" fill="#329bf5"/><rect x="162.26" y="85.09" width="12.24" height="6.13" fill="#00ffff"/><rect x="174.45" y="85.09" width="12.24" height="6.13" fill="#96fab4"/><rect x="186.63" y="85.09" width="48.79" height="6.13" fill="#c8fa64"/><rect x="235.38" y="85.09" width="12.24" height="6.13" fill="#96fab4"/><rect x="-14.44" y="91.17" width="6.14" height="6.13" fill="url(#hatch)"/><rect x="-8.34" y="91.17" width="6.14" height="6.13" fill="#00ffff"/><rect x="-2.25" y="91.17" width="73.17" height="6.13" fill="url(#hatch)"/><rect x="70.87" y="91.17" width="6.14" height="6.13" fill="#3264f0"/><rect x="76.96" y="91.17" width="12.24" height="6.13" fill="url(#hatch)"/><rect x="89.14" y="91.17" width="48.79" height="6.13" fill="#329bf5"/><rect x="137.89" y="91.17" width="6.14" height="6.13" fill="#00ffff"/><rect x="143.98" y="91.17" width="12.24" height="6.13" fill="#96fab4"/><rect x="156.17" y="91.17" width="18.33" height="6.13" fill="#00ffff"/><rect x="174.45" y="91.17" width="18.33" height="6.13" fill="#96fab4"/><rect x="192.73" y="91.17" width="48.79" height="6.13" fill="#c8fa64"/><rect x="241.47" y="91.17" width="6.14" height="6.13" fill="#96fab4"/><rect x="-14.44" y="97.25" width="12.24" height="6.13" fill="url(#hatch)"/><rect x="-2.25" y="97.25" width="6.14" height="6.13" fill="#329bf5"/><rect x="3.84" y="97.25" width="60.98" height="6.13" fill="url(#hatch)"/><rect x="64.77" y="97.25" width="6.14" height="6.13" fill="#3264f0"/><rect x="70.87" y="97.25" width="6.14" height="6.13" fill="#329bf5"/><rect x="76.96" y="97.25" width="12.24" height="6.13" fill="url(#hatch)"/><rect x="89.14" y="97.25" width="24.42" height="6.13" fill="#329bf5"/><rect x="113.52" y="97.25" width="6.14" height="6.13" fill="url(#hatch)"/><rect x="119.61" y="97.25" width="18.33" height="6.13" fill="#329bf5"/><rect x="137.89" y="97.25" width="6.14" height="6.13" fill="#00ffff"/><rect x="143.98" y="97.25" width="6.14" height="6.13" fill="#96fab4"/><rect x="150.07" y="97.25" width="6.14" height="6.13" fill="#c8fa64"/><rect x="156.17" y="97.25" width="24.42" height="6.13" fill="#00ffff"/><rect x="180.54" y="97.25" width="12.24" height="6.13" fill="#96fab4"/><rect x="192.73" y="97.25" width="60.98" height="6.13" fill="#c8fa64"/><rect x="-14.44" y="103.33" width="6.14" height="6.13" fill="#329bf5"/><rect x="-8.34" y="103.33" width="48.79" height="6.13" fill="url(#hatch)"/><rect x="40.40" y="103.33" width="6.14" height="6.13" fill="#3264f0"/><rect x="46.49" y="103.33" width="6.14" height="6.13" fill="url(#hatch)"/><rect x="52.59" y="103.33" width="18.33" height="6.13" fill="#3264f0"/><rect x="70.87" y="103.33" width="12.24" height="6.13" fill="#329bf5"/><rect x="83.05" y="103.33" width="6.14" height="6.13" fill="url(#hatch)"/><rect x="89.14" y="103.33" width="6.14" height="6.13" fill="#329bf5"/><rect x="95.24" y="103.33" width="30.52" height="6.13" fill="#3264f0"/><rect x="125.70" y="103.33" width="12.24" height="6.13" fill="#329bf5"/><rect x="137.89" y="103.33" width="6.14" height="6.13" fill="#00ffff"/><rect x="143.98" y="103.33" width="12.24" height="6.13" fill="#96fab4"/><rect x="156.17" y="103.33" width="6.14" height="6.13" fill="#c8fa64"/><rect x="162.26" y="103.33" width="18.33" height="6.13" fill="#00ffff"/><rect x="180.54" y="103.33" width="12.24" height="6.13" fill="#96fab4"/><rect x="192.73" y="103.33" width="30.52" height="6.13" fill="#c8fa64"/><rect x="223.19" y="103.33" width="30.52" height="6.13" fill="#ffff00"/><rect x="-8.34" y="109.40" width="18.33" height="6.13" fill="#3264f0"/><rect x="9.94" y="109.40" width="36.61" height="6.13" fill="url(#hatch)"/><rect x="46.49" y="109.40" width="6.14" height="6.13" fill="#329bf5"/><rect x="52.59" y="109.40" width="6.14" height="6.13" fill="url(#hatch)"/><rect x="58.68" y="109.40" width="12.24" height="6.13" fill="#329bf5"/><rect x="70.87" y="109.40" width="6.14" height="6.13" fill="url(#hatch)"/><rect x="76.96" y="109.40" width="12.24" height="6.13" fill="#329bf5"/><rect x="89.14" y="109.40" width="42.70" height="6.13" fill="#3264f0"/><rect x="131.80" y="109.40" width="12.24" height="6.13" fill="#329bf5"/><rect x="143.98" y="109.40" width="6.14" height="6.13" fill="#00ffff"/><rect x="150.07" y="109.40" width="6.14" height="6.13" fill="#96fab4"/><rect x="156.17" y="109.40" width="6.14" height="6.13" fill="#c8fa64"/><rect x="162.26" y="109.40" width="6.14" height="6.13" fill="#00ffff"/><rect x="168.35" y="109.40" width="6.14" height="6.13" fill="#329bf5"/><rect x="174.45" y="109.40" width="12.24" height="6.13" fill="#00ffff"/><rect x="186.63" y="109.40" width="6.14" height="6.13" fill="#96fab4"/><rect x="192.73" y="109.40" width="30.52" height="6.13" fill="#c8fa64"/><rect x="223.19" y="109.40" width="30.52" height="6.13" fill="#ffff00"/><rect x="9.94" y="115.48" width="6.14" height="6.13" fill="#00ffff"/><rect x="16.03" y="115.48" width="24.42" height="6.13" fill="url(#hatch)"/><rect x="40.40" y="115.48" width="18.33" height="6.13" fill="#00ffff"/><rect x="58.68" y="115.48" width="36.61" height="6.13" fill="#329bf5"/><rect x="95.24" y="115.48" width="6.14" height="6.13" fill="url(#hatch)"/><rect x="101.33" y="115.48" width="30.52" height="6.13" fill="#3264f0"/><rect x="131.80" y="115.48" width="12.24" height="6.13" fill="#329bf5"/><rect x="143.98" y="115.48" width="6.14" height="6.13" fill="#00ffff"/><rect x="150.07" y="115.48" width="6.14" height="6.13" fill="#96fab4"/><rect x="156.17" y="115.48" width="12.24" height="6.13" fill="#c8fa64"/><rect x="168.35" y="115.48" width="6.14" height="6.13" fill="#329bf5"/><rect x="174.45" y="115.48" width="18.33" height="6.13" fill="#00ffff"/><rect x="192.73" y="115.48" width="6.14" height="6.13" fill="#96fab4"/><rect x="198.82" y="115.48" width="30.52" height="6.13" fill="#c8fa64"/><rect x="229.28" y="115.48" width="18.33" height="6.13" fill="#ffff00"/><rect x="247.56" y="115.48" width="6.14" height="6.13" fill="#ff6e00"/><rect x="22.12" y="121.56" width="12.24" height="6.13" fill="#3264f0"/><rect x="34.31" y="121.56" width="6.14" height="6.13" fill="url(#hatch)"/><rect x="40.40" y="121.56" width="36.61" height="6.13" fill="#329bf5"/><rect x="76.96" y="121.56" width="6.14" height="6.13" fill="url(#hatch)"/><rect x="83.05" y="121.56" width="18.33" height="6.13" fill="#00ffff"/><rect x="101.33" y="121.56" width="6.14" height="6.13" fill="#329bf5"/><rect x="107.42" y="121.56" width="18.33" height="6.13" fill="#00ffff"/><rect x="125.70" y="121.56" width="18.33" height="6.13" fill="#329bf5"/><rect x="143.98" y="121.56" width="6.14" height="6.13" fill="#00ffff"/><rect x="150.07" y="121.56" width="18.33" height="6.13" fill="#96fab4"/><rect x="168.35" y="121.56" width="6.14" height="6.13" fill="#c8fa64"/><rect x="174.45" y="121.56" width="12.24" height="6.13" fill="#00ffff"/><rect x="186.63" y="121.56" width="12.24" height="6.13" fill="#96fab4"/><rect x="198.82" y="121.56" width="30.52" height="6.13" fill="#c8fa64"/><rect x="229.28" y="121.56" width="24.42" height="6.13" fill="#ffaa00"/><rect x="34.31" y="127.64" width="6.14" height="6.13" fill="url(#hatch)"/><rect x="40.40" y="127.64" width="18.33" height="6.13" fill="#3264f0"/><rect x="58.68" y="127.64" width="12.24" height="6.13" fill="#329bf5"/><rect x="70.87" y="127.64" width="6.14" height="6.13" fill="#3264f0"/><rect x="76.96" y="127.64" width="6.14" height="6.13" fill="#329bf5"/><rect x="83.05" y="127.64" width="12.24" height="6.13" fill="#00ffff"/><rect x="101.33" y="127.64" width="6.14" height="6.13" fill="#329bf5"/><rect x="107.42" y="127.64" width="6.14" height="6.13" fill="#00ffff"/><rect x="113.52" y="127.64" width="6.14" height="6.13" fill="#96fab4"/><rect x="119.61" y="127.64" width="18.33" height="6.13" fill="#00ffff"/><rect x="137.89" y="127.64" width="6.14" height="6.13" fill="#329bf5"/><rect x="143.98" y="127.64" width="6.14" height="6.13" fill="#00ffff"/><rect x="150.07" y="127.64" width="24.42" height="6.13" fill="#96fab4"/><rect x="174.45" y="127.64" width="6.14" height="6.13" fill="#c8fa64"/><rect x="180.54" y="127.64" width="6.14" height="6.13" fill="#00ffff"/><rect x="186.63" y="127.64" width="12.24" height="6.13" fill="#96fab4"/><rect x="198.82" y="127.64" width="12.24" height="6.13" fill="#c8fa64"/><rect x="211.00" y="127.64" width="12.24" height="6.13" fill="#ffaa00"/><rect x="223.19" y="127.64" width="6.14" height="6.13" fill="#ffff00"/><rect x="229.28" y="127.64" width="18.33" height="6.13" fill="#ffaa00"/><rect x="70.87" y="133.72" width="6.14" height="6.13" fill="#3264f0"/><rect x="76.96" y="133.72" width="6.14" height="6.13" fill="#329bf5"/><rect x="107.42" y="133.72" width="12.24" height="6.13" fill="#00ffff"/><rect x="119.61" y="133.72" width="18.33" height="6.13" fill="#96fab4"/><rect x="137.89" y="133.72" width="12.24" height="6.13" fill="#329bf5"/><rect x="150.07" y="133.72" width="12.24" height="6.13" fill="#00ffff"/><rect x="162.26" y="133.72" width="12.24" height="6.13" fill="#96fab4"/><rect x="174.45" y="133.72" width="12.24" height="6.13" fill="#c8fa64"/><rect x="186.63" y="133.72" width="36.61" height="6.13" fill="#ffff00"/><rect x="223.19" y="133.72" width="6.14" height="6.13" fill="#ffaa00"/><rect x="229.28" y="133.72" width="18.33" height="6.13" fill="#ffff00"/><rect x="101.33" y="139.79" width="18.33" height="6.13" fill="#00ffff"/><rect x="119.61" y="139.79" width="12.24" height="6.13" fill="#96fab4"/><rect x="131.80" y="139.79" width="12.24" height="6.13" fill="#00ffff"/><rect x="143.98" y="139.79" width="12.24" height="6.13" fill="#329bf5"/><rect x="156.17" y="139.79" width="6.14" height="6.13" fill="#00ffff"/><rect x="162.26" y="139.79" width="12.24" height="6.13" fill="#96fab4"/><rect x="174.45" y="139.79" width="12.24" height="6.13" fill="#c8fa64"/><rect x="186.63" y="139.79" width="54.89" height="6.13" fill="#ffff00"/><rect x="247.56" y="139.79" width="6.14" height="6.13" fill="#c8fa64"/><rect x="101.33" y="145.87" width="18.33" height="6.13" fill="#00ffff"/><rect x="119.61" y="145.87" width="12.24" height="6.13" fill="#96fab4"/><rect x="131.80" y="145.87" width="24.42" height="6.13" fill="#00ffff"/><rect x="156.17" y="145.87" width="12.24" height="6.13" fill="#96fab4"/><rect x="168.35" y="145.87" width="18.33" height="6.13" fill="#c8fa64"/><rect x="186.63" y="145.87" width="36.61" height="6.13" fill="#ffff00"/><rect x="223.19" y="145.87" width="12.24" height="6.13" fill="#ffaa00"/><rect x="241.47" y="145.87" width="6.14" height="6.13" fill="#ffff00"/><rect x="247.56" y="145.87" width="6.14" height="6.13" fill="#c8fa64"/><rect x="101.33" y="151.95" width="6.14" height="6.13" fill="#00ffff"/><rect x="107.42" y="151.95" width="24.42" height="6.13" fill="#96fab4"/><rect x="131.80" y="151.95" width="18.33" height="6.13" fill="#00ffff"/><rect x="150.07" y="151.95" width="18.33" height="6.13" fill="#96fab4"/><rect x="168.35" y="151.95" width="18.33" height="6.13" fill="#c8fa64"/><rect x="186.63" y="151.95" width="36.61" height="6.13" fill="#ffff00"/><rect x="223.19" y="151.95" width="6.14" height="6.13" fill="#ffaa00"/><rect x="241.47" y="151.95" width="6.14" height="6.13" fill="#ffaa00"/><rect x="247.56" y="151.95" width="6.14" height="6.13" fill="#ffff00"/><rect x="113.52" y="158.03" width="30.52" height="6.13" fill="#96fab4"/><rect x="143.98" y="158.03" width="6.14" height="6.13" fill="#00ffff"/><rect x="150.07" y="158.03" width="24.42" height="6.13" fill="#96fab4"/><rect x="174.45" y="158.03" width="12.24" height="6.13" fill="#c8fa64"/><rect x="186.63" y="158.03" width="30.52" height="6.13" fill="#ffff00"/><rect x="241.47" y="158.03" width="6.14" height="6.13" fill="#ffaa00"/><rect x="247.56" y="158.03" width="6.14" height="6.13" fill="#ffff00"/><rect x="113.52" y="164.11" width="18.33" height="6.13" fill="#96fab4"/><rect x="156.17" y="164.11" width="18.33" height="6.13" fill="#96fab4"/><rect x="174.45" y="164.11" width="12.24" height="6.13" fill="#c8fa64"/><rect x="186.63" y="164.11" width="18.33" height="6.13" fill="#ffff00"/><rect x="174.45" y="170.18" width="6.14" height="6.13" fill="#c8fa64"/><rect x="180.54" y="170.18" width="6.14" height="6.13" fill="#ffff00"/><rect x="168.35" y="176.26" width="18.33" height="6.13" fill="#c8fa64"/><rect x="168.35" y="182.34" width="18.33" height="6.13" fill="#c8fa64"/><path d="M-50.99 -36.47V194.50M-44.90 -36.47V194.50M-38.81 -36.47V194.50M-32.72 -36.47V194.50M-26.62 -36.47V194.50M-20.53 -36.47V194.50M-14.44 -36.47V194.50M-8.34 -36.47V194.50M-2.25 -36.47V194.50M3.84 -36.47V194.50M9.94 -36.47V194.50M16.03 -36.47V194.50M22.12 -36.47V194.50M28.21 -36.47V194.50M34.31 -36.47V194.50M40.40 -36.47V194.50M46.49 -36.47V194.50M52.59 -36.47V194.50M58.68 -36.47V194.50M64.77 -36.47V194.50M70.87 -36.47V194.50M76.96 -36.47V194.50M83.05 -36.47V194.50M89.14 -36.47V194.50M95.24 -36.47V194.50M101.33 -36.47V194.50M107.42 -36.47V194.50M113.52 -36.47V194.50M119.61 -36.47V194.50M125.70 -36.47V194.50M131.80 -36.47V194.50M137.89 -36.47V194.50M143.98 -36.47V194.50M150.07 -36.47V194.50M156.17 -36.47V194.50M162.26 -36.47V194.50M168.35 -36.47V194.50M174.45 -36.47V194.50M180.54 -36.47V194.50M186.63 -36.47V194.50M192.73 -36.47V194.50M198.82 -36.47V194.50M204.91 -36.47V194.50M211.00 -36.47V194.50M217.10 -36.47V194.50M223.19 -36.47V194.50M229.28 -36.47V194.50M235.38 -36.47V194.50M241.47 -36.47V194.50M247.56 -36.47V194.50M253.66 -36.47V194.50M259.75 -36.47V194.50M265.84 -36.47V194.50M271.94 -36.47V194.50M278.03 -36.47V194.50M284.12 -36.47V194.50M290.21 -36.47V194.50M296.31 -36.47V194.50M302.40 -36.47V194.50M308.49 -36.47V194.50M314.59 -36.47V194.50M320.68 -36.47V194.50M326.77 -36.47V194.50M332.87 -36.47V194.50M338.96 -36.47V194.50M345.05 -36.47V194.50M-50.99 -36.47H345.05M-50.99 -30.39H345.05M-50.99 -24.31H345.05M-50.99 -18.23H345.05M-50.99 -12.16H345.05M-50.99 -6.08H345.05M-50.99 0.00H345.05M-50.99 6.08H345.05M-50.99 12.16H345.05M-50.99 18.23H345.05M-50.99 24.31H345.05M-50.99 30.39H345.05M-50.99 36.47H345.05M-50.99 42.55H345.05M-50.99 48.62H345.05M-50.99 54.70H345.05M-50.99 60.78H345.05M-50.99 66.86H345.05M-50.99 72.94H345.05M-50.99 79.01H345.05M-50.99 85.09H345.05M-50.99 91.17H345.05M-50.99 97.25H345.05M-50.99 103.33H345.05M-50.99 109.40H345.05M-50.99 115.48H345.05M-50.99 121.56H345.05M-50.99 127.64H345.05M-50.99 133.72H345.05M-50.99 139.79H345.05M-50.99 145.87H345.05M-50.99 151.95H345.05M-50.99 158.03H345.05M-50.99 164.11H345.05M-50.99 170.18H345.05M-50.99 176.26H345.05M-50.99 182.34H345.05M-50.99 188.42H345.05M-50.99 194.50H345.05" stroke="#5f5f5a" stroke-width="0.42" fill="none"/></g>
<use href="#cn" transform="translate(-2.56 -5.90)" fill="none" stroke="#666" stroke-width="0.7"/>
<g transform="translate(-2.56 -5.90)"><path d="M178.1 205.3L181.5 212.2M184.0 229.2L183.1 235.1M180.3 255.6L184.0 252.4M237.2 206.5L237.7 212.8M236.3 231.5L234.0 237.4M250.9 177.3L254.5 172.3M240.6 194.2L243.6 188.3M258.8 155.3L260.7 161.0M264.1 147.3L265.9 145.9M191.7 255.4L195.1 250.8M204.2 258.8L208.8 255.4M215.6 259.9L220.2 256.1M171.2 262.2L172.1 259.9" stroke="#222" stroke-width="0.55" fill="none"/><circle cx="223.6" cy="178.0" r="1.00" fill="#222"/><circle cx="192.9" cy="203.7" r="0.70" fill="#222"/><circle cx="195.1" cy="201.9" r="0.60" fill="#222"/><circle cx="197.4" cy="204.6" r="0.60" fill="#222"/><circle cx="194.4" cy="205.8" r="0.50" fill="#222"/><circle cx="199.0" cy="203.1" r="0.50" fill="#222"/><circle cx="230.4" cy="211.0" r="0.50" fill="#222"/><circle cx="224.7" cy="204.6" r="0.40" fill="#222"/><circle cx="239.0" cy="161.0" r="0.90" fill="#222"/><circle cx="253.1" cy="168.9" r="0.60" fill="#222"/><circle cx="198.1" cy="247.8" r="0.35" fill="#222"/><circle cx="192.5" cy="252.2" r="0.45" fill="#222"/><circle cx="223.6" cy="235.9" r="0.55" fill="#222"/><circle cx="209.8" cy="251.1" r="0.45" fill="#222"/><circle cx="206.8" cy="253.6" r="0.45" fill="#222"/><circle cx="217.1" cy="237.0" r="0.55" fill="#222"/><circle cx="228.0" cy="242.7" r="0.45" fill="#222"/><circle cx="199.1" cy="253.8" r="0.55" fill="#222"/><circle cx="200.2" cy="246.1" r="0.55" fill="#222"/><circle cx="216.3" cy="236.1" r="0.55" fill="#222"/><circle cx="227.2" cy="238.2" r="0.45" fill="#222"/><circle cx="206.2" cy="245.3" r="0.35" fill="#222"/><circle cx="208.4" cy="242.1" r="0.35" fill="#222"/><circle cx="215.5" cy="245.5" r="0.55" fill="#222"/><circle cx="208.4" cy="251.4" r="0.35" fill="#222"/><circle cx="202.0" cy="253.7" r="0.45" fill="#222"/><circle cx="202.3" cy="251.5" r="0.45" fill="#222"/><circle cx="211.9" cy="240.0" r="0.35" fill="#222"/><circle cx="215.2" cy="242.1" r="0.35" fill="#222"/><circle cx="204.0" cy="248.4" r="0.35" fill="#222"/><circle cx="198.7" cy="257.4" r="0.45" fill="#222"/><circle cx="223.8" cy="234.4" r="0.45" fill="#222"/><circle cx="201.4" cy="249.6" r="0.55" fill="#222"/><circle cx="212.0" cy="243.0" r="0.45" fill="#222"/><circle cx="201.6" cy="249.4" r="0.35" fill="#222"/><circle cx="200.1" cy="241.7" r="0.35" fill="#222"/><circle cx="210.2" cy="253.2" r="0.55" fill="#222"/><circle cx="203.7" cy="250.5" r="0.35" fill="#222"/><circle cx="193.8" cy="254.2" r="0.55" fill="#222"/><circle cx="212.7" cy="235.7" r="0.45" fill="#222"/><circle cx="211.7" cy="237.2" r="0.55" fill="#222"/><circle cx="210.1" cy="250.0" r="0.35" fill="#222"/><circle cx="207.4" cy="243.8" r="0.35" fill="#222"/><circle cx="201.5" cy="251.2" r="0.45" fill="#222"/><circle cx="221.6" cy="233.0" r="0.45" fill="#222"/><circle cx="203.5" cy="252.3" r="0.45" fill="#222"/><circle cx="218.8" cy="232.6" r="0.45" fill="#222"/><circle cx="218.7" cy="242.2" r="0.55" fill="#222"/><ellipse cx="208.8" cy="207.6" rx="3.6" ry="1.9" transform="rotate(-20 208.8 207.6)" fill="none" stroke="#222" stroke-width="0.5"/></g>
</g>
<path d="M514.40 18.40V347.10M575.33 18.40V347.10M636.26 18.40V347.10M697.19 18.40V347.10M758.12 18.40V347.10M819.05 18.40V347.10" stroke="#c8c8c8" stroke-width="0.6" stroke-dasharray="3.9 10.1" stroke-dashoffset="8.1" fill="none"/><path d="M464.20 302.42H860.20M464.20 241.64H860.20M464.20 180.86H860.20M464.20 120.08H860.20M464.20 59.30H860.20" stroke="#c8c8c8" stroke-width="0.6" stroke-dasharray="3.9 10.1" fill="none"/>
<g transform="translate(514.40 59.30)">
<g clip-path="url(#clipb)"><use href="#cn" transform="translate(-0.61 -2.01)" fill="#0000f0"/><rect x="255.16" y="-20.31" width="6.14" height="6.13" fill="#3264f0"/><rect x="242.97" y="-8.16" width="6.14" height="6.13" fill="#3264f0"/><rect x="267.34" y="-8.16" width="6.14" height="6.13" fill="#3264f0"/><rect x="285.62" y="-8.16" width="6.14" height="6.13" fill="#329bf5"/><rect x="224.69" y="-2.08" width="6.14" height="6.13" fill="#00ffff"/><rect x="236.88" y="-2.08" width="6.14" height="6.13" fill="#c8fa64"/><rect x="242.97" y="-2.08" width="6.14" height="6.13" fill="#329bf5"/><rect x="267.34" y="-2.08" width="12.24" height="6.13" fill="#3264f0"/><rect x="285.62" y="-2.08" width="6.14" height="6.13" fill="#3264f0"/><rect x="236.88" y="4.00" width="6.14" height="6.13" fill="#3264f0"/><rect x="261.25" y="4.00" width="6.14" height="6.13" fill="#3264f0"/><rect x="267.34" y="4.00" width="6.14" height="6.13" fill="#329bf5"/><rect x="273.44" y="4.00" width="6.14" height="6.13" fill="#3264f0"/><rect x="279.53" y="4.00" width="6.14" height="6.13" fill="#00ffff"/><rect x="297.81" y="4.00" width="6.14" height="6.13" fill="#3264f0"/><rect x="41.90" y="10.08" width="12.24" height="6.13" fill="#3264f0"/><rect x="255.16" y="10.08" width="6.14" height="6.13" fill="#3264f0"/><rect x="261.25" y="10.08" width="6.14" height="6.13" fill="#c8fa64"/><rect x="267.34" y="10.08" width="6.14" height="6.13" fill="#96fab4"/><rect x="273.44" y="10.08" width="6.14" height="6.13" fill="#00ffff"/><rect x="279.53" y="10.08" width="6.14" height="6.13" fill="#329bf5"/><rect x="285.62" y="10.08" width="6.14" height="6.13" fill="#3264f0"/><rect x="291.71" y="10.08" width="6.14" height="6.13" fill="#329bf5"/><rect x="297.81" y="10.08" width="6.14" height="6.13" fill="#3264f0"/><rect x="303.90" y="10.08" width="6.14" height="6.13" fill="#96fab4"/><rect x="309.99" y="10.08" width="12.24" height="6.13" fill="#329bf5"/><rect x="322.18" y="10.08" width="6.14" height="6.13" fill="#3264f0"/><rect x="17.53" y="16.15" width="6.14" height="6.13" fill="#3264f0"/><rect x="236.88" y="16.15" width="6.14" height="6.13" fill="#3264f0"/><rect x="249.06" y="16.15" width="12.24" height="6.13" fill="#3264f0"/><rect x="261.25" y="16.15" width="6.14" height="6.13" fill="#329bf5"/><rect x="267.34" y="16.15" width="12.24" height="6.13" fill="#ffff00"/><rect x="279.53" y="16.15" width="6.14" height="6.13" fill="#00ffff"/><rect x="285.62" y="16.15" width="6.14" height="6.13" fill="#329bf5"/><rect x="291.71" y="16.15" width="6.14" height="6.13" fill="#3264f0"/><rect x="297.81" y="16.15" width="6.14" height="6.13" fill="#329bf5"/><rect x="303.90" y="16.15" width="12.24" height="6.13" fill="#96fab4"/><rect x="316.09" y="16.15" width="6.14" height="6.13" fill="#329bf5"/><rect x="322.18" y="16.15" width="6.14" height="6.13" fill="#3264f0"/><rect x="23.62" y="22.23" width="6.14" height="6.13" fill="#329bf5"/><rect x="29.71" y="22.23" width="6.14" height="6.13" fill="#3264f0"/><rect x="236.88" y="22.23" width="6.14" height="6.13" fill="#3264f0"/><rect x="249.06" y="22.23" width="6.14" height="6.13" fill="#3264f0"/><rect x="255.16" y="22.23" width="6.14" height="6.13" fill="#96fab4"/><rect x="261.25" y="22.23" width="6.14" height="6.13" fill="#3264f0"/><rect x="267.34" y="22.23" width="6.14" height="6.13" fill="#96fab4"/><rect x="273.44" y="22.23" width="6.14" height="6.13" fill="#00ffff"/><rect x="279.53" y="22.23" width="6.14" height="6.13" fill="#ff6e00"/><rect x="285.62" y="22.23" width="12.24" height="6.13" fill="#329bf5"/><rect x="297.81" y="22.23" width="6.14" height="6.13" fill="#0000f0"/><rect x="303.90" y="22.23" width="6.14" height="6.13" fill="#c8fa64"/><rect x="309.99" y="22.23" width="6.14" height="6.13" fill="#96fab4"/><rect x="316.09" y="22.23" width="6.14" height="6.13" fill="#329bf5"/><rect x="322.18" y="22.23" width="6.14" height="6.13" fill="#3264f0"/><rect x="-0.75" y="28.31" width="18.33" height="6.13" fill="#3264f0"/><rect x="17.53" y="28.31" width="6.14" height="6.13" fill="#0000f0"/><rect x="23.62" y="28.31" width="6.14" height="6.13" fill="#00ffff"/><rect x="29.71" y="28.31" width="6.14" height="6.13" fill="#329bf5"/><rect x="35.81" y="28.31" width="6.14" height="6.13" fill="#96fab4"/><rect x="41.90" y="28.31" width="6.14" height="6.13" fill="#00ffff"/><rect x="47.99" y="28.31" width="12.24" height="6.13" fill="#3264f0"/><rect x="224.69" y="28.31" width="6.14" height="6.13" fill="#3264f0"/><rect x="249.06" y="28.31" width="12.24" height="6.13" fill="#0000f0"/><rect x="261.25" y="28.31" width="12.24" height="6.13" fill="#3264f0"/><rect x="273.44" y="28.31" width="6.14" height="6.13" fill="#96fab4"/><rect x="279.53" y="28.31" width="6.14" height="6.13" fill="#00ffff"/><rect x="285.62" y="28.31" width="6.14" height="6.13" fill="#329bf5"/><rect x="291.71" y="28.31" width="6.14" height="6.13" fill="#3264f0"/><rect x="297.81" y="28.31" width="6.14" height="6.13" fill="#c8fa64"/><rect x="303.90" y="28.31" width="6.14" height="6.13" fill="#3264f0"/><rect x="309.99" y="28.31" width="6.14" height="6.13" fill="#00ffff"/><rect x="5.34" y="34.39" width="6.14" height="6.13" fill="#329bf5"/><rect x="11.44" y="34.39" width="12.24" height="6.13" fill="#3264f0"/><rect x="41.90" y="34.39" width="6.14" height="6.13" fill="#ffff00"/><rect x="54.09" y="34.39" width="12.24" height="6.13" fill="#3264f0"/><rect x="218.60" y="34.39" width="6.14" height="6.13" fill="#329bf5"/><rect x="230.78" y="34.39" width="6.14" height="6.13" fill="#3264f0"/><rect x="249.06" y="34.39" width="6.14" height="6.13" fill="#3264f0"/><rect x="255.16" y="34.39" width="6.14" height="6.13" fill="#c8fa64"/><rect x="261.25" y="34.39" width="12.24" height="6.13" fill="#96fab4"/><rect x="273.44" y="34.39" width="6.14" height="6.13" fill="#ffaa00"/><rect x="279.53" y="34.39" width="6.14" height="6.13" fill="#c8fa64"/><rect x="285.62" y="34.39" width="18.33" height="6.13" fill="#3264f0"/><rect x="303.90" y="34.39" width="6.14" height="6.13" fill="#0000f0"/><rect x="309.99" y="34.39" width="6.14" height="6.13" fill="#00ffff"/><rect x="35.81" y="40.47" width="6.14" height="6.13" fill="#3264f0"/><rect x="54.09" y="40.47" width="6.14" height="6.13" fill="#3264f0"/><rect x="78.46" y="40.47" width="6.14" height="6.13" fill="#329bf5"/><rect x="188.13" y="40.47" width="6.14" height="6.13" fill="#3264f0"/><rect x="218.60" y="40.47" width="6.14" height="6.13" fill="#96fab4"/><rect x="230.78" y="40.47" width="6.14" height="6.13" fill="#00ffff"/><rect x="236.88" y="40.47" width="6.14" height="6.13" fill="#c8fa64"/><rect x="242.97" y="40.47" width="6.14" height="6.13" fill="#3264f0"/><rect x="249.06" y="40.47" width="6.14" height="6.13" fill="#96fab4"/><rect x="255.16" y="40.47" width="6.14" height="6.13" fill="#3264f0"/><rect x="261.25" y="40.47" width="6.14" height="6.13" fill="#ffff00"/><rect x="267.34" y="40.47" width="6.14" height="6.13" fill="#329bf5"/><rect x="273.44" y="40.47" width="6.14" height="6.13" fill="#00ffff"/><rect x="279.53" y="40.47" width="6.14" height="6.13" fill="#329bf5"/><rect x="285.62" y="40.47" width="6.14" height="6.13" fill="#96fab4"/><rect x="291.71" y="40.47" width="6.14" height="6.13" fill="#0000f0"/><rect x="297.81" y="40.47" width="6.14" height="6.13" fill="#329bf5"/><rect x="-0.75" y="46.54" width="6.14" height="6.13" fill="#329bf5"/><rect x="5.34" y="46.54" width="6.14" height="6.13" fill="#3264f0"/><rect x="11.44" y="46.54" width="6.14" height="6.13" fill="#329bf5"/><rect x="17.53" y="46.54" width="6.14" height="6.13" fill="#00ffff"/><rect x="23.62" y="46.54" width="6.14" height="6.13" fill="#329bf5"/><rect x="35.81" y="46.54" width="6.14" height="6.13" fill="#329bf5"/><rect x="163.76" y="46.54" width="12.24" height="6.13" fill="#3264f0"/><rect x="182.04" y="46.54" width="6.14" height="6.13" fill="#3264f0"/><rect x="200.32" y="46.54" width="12.24" height="6.13" fill="#3264f0"/><rect x="224.69" y="46.54" width="12.24" height="6.13" fill="#3264f0"/><rect x="236.88" y="46.54" width="12.24" height="6.13" fill="#00ffff"/><rect x="249.06" y="46.54" width="12.24" height="6.13" fill="#c8fa64"/><rect x="261.25" y="46.54" width="6.14" height="6.13" fill="#ff6e00"/><rect x="267.34" y="46.54" width="6.14" height="6.13" fill="#329bf5"/><rect x="273.44" y="46.54" width="6.14" height="6.13" fill="#00ffff"/><rect x="279.53" y="46.54" width="6.14" height="6.13" fill="#329bf5"/><rect x="285.62" y="46.54" width="6.14" height="6.13" fill="#0000f0"/><rect x="163.76" y="52.62" width="6.14" height="6.13" fill="#329bf5"/><rect x="169.85" y="52.62" width="6.14" height="6.13" fill="#3264f0"/><rect x="175.95" y="52.62" width="6.14" height="6.13" fill="#ffff00"/><rect x="182.04" y="52.62" width="6.14" height="6.13" fill="#329bf5"/><rect x="188.13" y="52.62" width="6.14" height="6.13" fill="#ffaa00"/><rect x="194.23" y="52.62" width="6.14" height="6.13" fill="#3264f0"/><rect x="200.32" y="52.62" width="6.14" height="6.13" fill="#ffff00"/><rect x="206.41" y="52.62" width="6.14" height="6.13" fill="#ffaa00"/><rect x="212.50" y="52.62" width="6.14" height="6.13" fill="#00ffff"/><rect x="218.60" y="52.62" width="6.14" height="6.13" fill="#ffaa00"/><rect x="224.69" y="52.62" width="6.14" height="6.13" fill="#c8fa64"/><rect x="230.78" y="52.62" width="6.14" height="6.13" fill="#96fab4"/><rect x="236.88" y="52.62" width="6.14" height="6.13" fill="#329bf5"/><rect x="242.97" y="52.62" width="18.33" height="6.13" fill="#c8fa64"/><rect x="261.25" y="52.62" width="6.14" height="6.13" fill="#3264f0"/><rect x="267.34" y="52.62" width="6.14" height="6.13" fill="#00ffff"/><rect x="273.44" y="52.62" width="6.14" height="6.13" fill="#0000f0"/><rect x="-31.21" y="58.70" width="6.14" height="6.13" fill="#329bf5"/><rect x="-25.12" y="58.70" width="6.14" height="6.13" fill="#3264f0"/><rect x="11.44" y="58.70" width="12.24" height="6.13" fill="#3264f0"/><rect x="108.92" y="58.70" width="6.14" height="6.13" fill="#00ffff"/><rect x="157.67" y="58.70" width="6.14" height="6.13" fill="#ffaa00"/><rect x="163.76" y="58.70" width="6.14" height="6.13" fill="#3264f0"/><rect x="169.85" y="58.70" width="6.14" height="6.13" fill="#0000f0"/><rect x="175.95" y="58.70" width="6.14" height="6.13" fill="#96fab4"/><rect x="182.04" y="58.70" width="6.14" height="6.13" fill="#00ffff"/><rect x="188.13" y="58.70" width="6.14" height="6.13" fill="#c8fa64"/><rect x="194.23" y="58.70" width="6.14" height="6.13" fill="#ffff00"/><rect x="200.32" y="58.70" width="12.24" height="6.13" fill="#c8fa64"/><rect x="212.50" y="58.70" width="6.14" height="6.13" fill="#96fab4"/><rect x="218.60" y="58.70" width="12.24" height="6.13" fill="#ff0000"/><rect x="230.78" y="58.70" width="6.14" height="6.13" fill="#ff6e00"/><rect x="236.88" y="58.70" width="6.14" height="6.13" fill="#c8fa64"/><rect x="249.06" y="58.70" width="6.14" height="6.13" fill="#c8fa64"/><rect x="255.16" y="58.70" width="6.14" height="6.13" fill="#329bf5"/><rect x="261.25" y="58.70" width="6.14" height="6.13" fill="#00ffff"/><rect x="-19.03" y="64.78" width="6.14" height="6.13" fill="#3264f0"/><rect x="121.11" y="64.78" width="6.14" height="6.13" fill="#3264f0"/><rect x="133.30" y="64.78" width="6.14" height="6.13" fill="#329bf5"/><rect x="151.57" y="64.78" width="6.14" height="6.13" fill="#329bf5"/><rect x="157.67" y="64.78" width="6.14" height="6.13" fill="#ffff00"/><rect x="163.76" y="64.78" width="6.14" height="6.13" fill="#0000f0"/><rect x="169.85" y="64.78" width="6.14" height="6.13" fill="#3264f0"/><rect x="175.95" y="64.78" width="6.14" height="6.13" fill="#00ffff"/><rect x="182.04" y="64.78" width="12.24" height="6.13" fill="#329bf5"/><rect x="194.23" y="64.78" width="12.24" height="6.13" fill="#00ffff"/><rect x="206.41" y="64.78" width="6.14" height="6.13" fill="#ffff00"/><rect x="212.50" y="64.78" width="18.33" height="6.13" fill="#c8fa64"/><rect x="242.97" y="64.78" width="12.24" height="6.13" fill="#96fab4"/><rect x="-19.03" y="70.86" width="6.14" height="6.13" fill="#3264f0"/><rect x="-6.84" y="70.86" width="6.14" height="6.13" fill="#3264f0"/><rect x="133.30" y="70.86" width="6.14" height="6.13" fill="#3264f0"/><rect x="151.57" y="70.86" width="6.14" height="6.13" fill="#00ffff"/><rect x="157.67" y="70.86" width="18.33" height="6.13" fill="#329bf5"/><rect x="175.95" y="70.86" width="6.14" height="6.13" fill="#3264f0"/><rect x="182.04" y="70.86" width="6.14" height="6.13" fill="#329bf5"/><rect x="188.13" y="70.86" width="6.14" height="6.13" fill="#96fab4"/><rect x="194.23" y="70.86" width="6.14" height="6.13" fill="#ff6e00"/><rect x="200.32" y="70.86" width="6.14" height="6.13" fill="#329bf5"/><rect x="206.41" y="70.86" width="18.33" height="6.13" fill="#ffff00"/><rect x="224.69" y="70.86" width="6.14" height="6.13" fill="#c8fa64"/><rect x="230.78" y="70.86" width="6.14" height="6.13" fill="#96fab4"/><rect x="242.97" y="70.86" width="6.14" height="6.13" fill="#96fab4"/><rect x="249.06" y="70.86" width="6.14" height="6.13" fill="#ffff00"/><rect x="255.16" y="70.86" width="6.14" height="6.13" fill="#c8fa64"/><rect x="84.55" y="76.93" width="6.14" height="6.13" fill="#3264f0"/><rect x="127.20" y="76.93" width="6.14" height="6.13" fill="#96fab4"/><rect x="133.30" y="76.93" width="6.14" height="6.13" fill="#3264f0"/><rect x="139.39" y="76.93" width="6.14" height="6.13" fill="#ffaa00"/><rect x="145.48" y="76.93" width="6.14" height="6.13" fill="#96fab4"/><rect x="151.57" y="76.93" width="12.24" height="6.13" fill="#3264f0"/><rect x="163.76" y="76.93" width="6.14" height="6.13" fill="#329bf5"/><rect x="169.85" y="76.93" width="6.14" height="6.13" fill="#00ffff"/><rect x="175.95" y="76.93" width="6.14" height="6.13" fill="#329bf5"/><rect x="182.04" y="76.93" width="6.14" height="6.13" fill="#3264f0"/><rect x="188.13" y="76.93" width="6.14" height="6.13" fill="#96fab4"/><rect x="194.23" y="76.93" width="6.14" height="6.13" fill="#329bf5"/><rect x="200.32" y="76.93" width="6.14" height="6.13" fill="#ffff00"/><rect x="206.41" y="76.93" width="6.14" height="6.13" fill="#ffaa00"/><rect x="212.50" y="76.93" width="6.14" height="6.13" fill="#ffff00"/><rect x="218.60" y="76.93" width="18.33" height="6.13" fill="#ffaa00"/><rect x="236.88" y="76.93" width="6.14" height="6.13" fill="#ffff00"/><rect x="242.97" y="76.93" width="6.14" height="6.13" fill="#ff6e00"/><rect x="249.06" y="76.93" width="6.14" height="6.13" fill="#329bf5"/><rect x="139.39" y="83.01" width="6.14" height="6.13" fill="#329bf5"/><rect x="145.48" y="83.01" width="12.24" height="6.13" fill="#3264f0"/><rect x="157.67" y="83.01" width="24.42" height="6.13" fill="#329bf5"/><rect x="182.04" y="83.01" width="6.14" height="6.13" fill="#c8fa64"/><rect x="188.13" y="83.01" width="6.14" height="6.13" fill="#96fab4"/><rect x="194.23" y="83.01" width="6.14" height="6.13" fill="#ffff00"/><rect x="200.32" y="83.01" width="6.14" height="6.13" fill="#ffaa00"/><rect x="206.41" y="83.01" width="6.14" height="6.13" fill="#c8fa64"/><rect x="212.50" y="83.01" width="6.14" height="6.13" fill="#96fab4"/><rect x="218.60" y="83.01" width="6.14" height="6.13" fill="#ff6e00"/><rect x="224.69" y="83.01" width="6.14" height="6.13" fill="#96fab4"/><rect x="230.78" y="83.01" width="6.14" height="6.13" fill="#c8fa64"/><rect x="236.88" y="83.01" width="6.14" height="6.13" fill="#96fab4"/><rect x="145.48" y="89.09" width="6.14" height="6.13" fill="#3264f0"/><rect x="151.57" y="89.09" width="6.14" height="6.13" fill="#00ffff"/><rect x="157.67" y="89.09" width="6.14" height="6.13" fill="#3264f0"/><rect x="163.76" y="89.09" width="6.14" height="6.13" fill="#ffff00"/><rect x="169.85" y="89.09" width="6.14" height="6.13" fill="#ff6e00"/><rect x="175.95" y="89.09" width="6.14" height="6.13" fill="#ffff00"/><rect x="182.04" y="89.09" width="6.14" height="6.13" fill="#c8fa64"/><rect x="188.13" y="89.09" width="6.14" height="6.13" fill="#96fab4"/><rect x="194.23" y="89.09" width="6.14" height="6.13" fill="#ffaa00"/><rect x="200.32" y="89.09" width="6.14" height="6.13" fill="#ff6e00"/><rect x="206.41" y="89.09" width="6.14" height="6.13" fill="#96fab4"/><rect x="212.50" y="89.09" width="6.14" height="6.13" fill="#00ffff"/><rect x="218.60" y="89.09" width="6.14" height="6.13" fill="#96fab4"/><rect x="224.69" y="89.09" width="6.14" height="6.13" fill="#ff6e00"/><rect x="230.78" y="89.09" width="6.14" height="6.13" fill="#96fab4"/><rect x="236.88" y="89.09" width="6.14" height="6.13" fill="#c8fa64"/><rect x="242.97" y="89.09" width="6.14" height="6.13" fill="#0000f0"/><rect x="145.48" y="95.17" width="6.14" height="6.13" fill="#3264f0"/><rect x="151.57" y="95.17" width="6.14" height="6.13" fill="#0000f0"/><rect x="157.67" y="95.17" width="12.24" height="6.13" fill="#329bf5"/><rect x="169.85" y="95.17" width="6.14" height="6.13" fill="#0000f0"/><rect x="175.95" y="95.17" width="6.14" height="6.13" fill="#3264f0"/><rect x="182.04" y="95.17" width="6.14" height="6.13" fill="#329bf5"/><rect x="188.13" y="95.17" width="6.14" height="6.13" fill="#3264f0"/><rect x="194.23" y="95.17" width="12.24" height="6.13" fill="#c8fa64"/><rect x="206.41" y="95.17" width="12.24" height="6.13" fill="#00ffff"/><rect x="218.60" y="95.17" width="6.14" height="6.13" fill="#c8fa64"/><rect x="224.69" y="95.17" width="6.14" height="6.13" fill="#329bf5"/><rect x="230.78" y="95.17" width="12.24" height="6.13" fill="#c8fa64"/><rect x="242.97" y="95.17" width="6.14" height="6.13" fill="#96fab4"/><rect x="151.57" y="101.25" width="6.14" height="6.13" fill="#329bf5"/><rect x="157.67" y="101.25" width="12.24" height="6.13" fill="#0000f0"/><rect x="169.85" y="101.25" width="6.14" height="6.13" fill="#ffff00"/><rect x="175.95" y="101.25" width="18.33" height="6.13" fill="#3264f0"/><rect x="194.23" y="101.25" width="6.14" height="6.13" fill="#c8fa64"/><rect x="200.32" y="101.25" width="6.14" height="6.13" fill="#329bf5"/><rect x="206.41" y="101.25" width="6.14" height="6.13" fill="#96fab4"/><rect x="212.50" y="101.25" width="6.14" height="6.13" fill="#329bf5"/><rect x="218.60" y="101.25" width="6.14" height="6.13" fill="#c8fa64"/><rect x="224.69" y="101.25" width="12.24" height="6.13" fill="#ffff00"/><rect x="236.88" y="101.25" width="6.14" height="6.13" fill="#ff6e00"/><rect x="242.97" y="101.25" width="6.14" height="6.13" fill="#ffff00"/><rect x="139.39" y="107.32" width="6.14" height="6.13" fill="#3264f0"/><rect x="145.48" y="107.32" width="6.14" height="6.13" fill="#c8fa64"/><rect x="151.57" y="107.32" width="18.33" height="6.13" fill="#3264f0"/><rect x="169.85" y="107.32" width="6.14" height="6.13" fill="#0000f0"/><rect x="175.95" y="107.32" width="6.14" height="6.13" fill="#3264f0"/><rect x="182.04" y="107.32" width="12.24" height="6.13" fill="#0000f0"/><rect x="194.23" y="107.32" width="6.14" height="6.13" fill="#3264f0"/><rect x="200.32" y="107.32" width="6.14" height="6.13" fill="#329bf5"/><rect x="206.41" y="107.32" width="12.24" height="6.13" fill="#3264f0"/><rect x="218.60" y="107.32" width="6.14" height="6.13" fill="#329bf5"/><rect x="224.69" y="107.32" width="12.24" height="6.13" fill="#ffff00"/><rect x="236.88" y="107.32" width="6.14" height="6.13" fill="#ffaa00"/><rect x="242.97" y="107.32" width="12.24" height="6.13" fill="#ff0000"/><rect x="139.39" y="113.40" width="6.14" height="6.13" fill="#c8fa64"/><rect x="145.48" y="113.40" width="6.14" height="6.13" fill="#ffff00"/><rect x="151.57" y="113.40" width="12.24" height="6.13" fill="#96fab4"/><rect x="163.76" y="113.40" width="12.24" height="6.13" fill="#3264f0"/><rect x="175.95" y="113.40" width="12.24" height="6.13" fill="#0000f0"/><rect x="188.13" y="113.40" width="12.24" height="6.13" fill="#00ffff"/><rect x="200.32" y="113.40" width="6.14" height="6.13" fill="#96fab4"/><rect x="206.41" y="113.40" width="6.14" height="6.13" fill="#ff6e00"/><rect x="212.50" y="113.40" width="12.24" height="6.13" fill="#329bf5"/><rect x="224.69" y="113.40" width="6.14" height="6.13" fill="#c8fa64"/><rect x="230.78" y="113.40" width="6.14" height="6.13" fill="#329bf5"/><rect x="236.88" y="113.40" width="6.14" height="6.13" fill="#c8fa64"/><rect x="242.97" y="113.40" width="6.14" height="6.13" fill="#ff6e00"/><rect x="249.06" y="113.40" width="6.14" height="6.13" fill="#ffaa00"/><rect x="66.27" y="119.48" width="6.14" height="6.13" fill="#329bf5"/><rect x="133.30" y="119.48" width="6.14" height="6.13" fill="#3264f0"/><rect x="139.39" y="119.48" width="12.24" height="6.13" fill="#329bf5"/><rect x="151.57" y="119.48" width="6.14" height="6.13" fill="#96fab4"/><rect x="157.67" y="119.48" width="6.14" height="6.13" fill="#ffaa00"/><rect x="163.76" y="119.48" width="6.14" height="6.13" fill="#329bf5"/><rect x="169.85" y="119.48" width="12.24" height="6.13" fill="#0000f0"/><rect x="182.04" y="119.48" width="6.14" height="6.13" fill="#3264f0"/><rect x="188.13" y="119.48" width="6.14" height="6.13" fill="#329bf5"/><rect x="194.23" y="119.48" width="6.14" height="6.13" fill="#3264f0"/><rect x="200.32" y="119.48" width="6.14" height="6.13" fill="#00ffff"/><rect x="206.41" y="119.48" width="6.14" height="6.13" fill="#3264f0"/><rect x="212.50" y="119.48" width="6.14" height="6.13" fill="#96fab4"/><rect x="218.60" y="119.48" width="6.14" height="6.13" fill="#3264f0"/><rect x="224.69" y="119.48" width="12.24" height="6.13" fill="#329bf5"/><rect x="236.88" y="119.48" width="6.14" height="6.13" fill="#96fab4"/><rect x="242.97" y="119.48" width="6.14" height="6.13" fill="#c8fa64"/><rect x="249.06" y="119.48" width="6.14" height="6.13" fill="#ff6e00"/><rect x="145.48" y="125.56" width="6.14" height="6.13" fill="#00ffff"/><rect x="151.57" y="125.56" width="6.14" height="6.13" fill="#3264f0"/><rect x="157.67" y="125.56" width="6.14" height="6.13" fill="#00ffff"/><rect x="163.76" y="125.56" width="6.14" height="6.13" fill="#0000f0"/><rect x="169.85" y="125.56" width="12.24" height="6.13" fill="#3264f0"/><rect x="182.04" y="125.56" width="6.14" height="6.13" fill="#0000f0"/><rect x="188.13" y="125.56" width="6.14" height="6.13" fill="#329bf5"/><rect x="194.23" y="125.56" width="6.14" height="6.13" fill="#96fab4"/><rect x="200.32" y="125.56" width="6.14" height="6.13" fill="#00ffff"/><rect x="206.41" y="125.56" width="6.14" height="6.13" fill="#3264f0"/><rect x="212.50" y="125.56" width="6.14" height="6.13" fill="#c8fa64"/><rect x="218.60" y="125.56" width="24.42" height="6.13" fill="#00ffff"/><rect x="242.97" y="125.56" width="6.14" height="6.13" fill="#c8fa64"/><rect x="249.06" y="125.56" width="6.14" height="6.13" fill="#ffaa00"/><rect x="84.55" y="131.64" width="6.14" height="6.13" fill="#3264f0"/><rect x="133.30" y="131.64" width="12.24" height="6.13" fill="#3264f0"/><rect x="145.48" y="131.64" width="6.14" height="6.13" fill="#0000f0"/><rect x="151.57" y="131.64" width="6.14" height="6.13" fill="#c8fa64"/><rect x="157.67" y="131.64" width="6.14" height="6.13" fill="#ffff00"/><rect x="163.76" y="131.64" width="12.24" height="6.13" fill="#0000f0"/><rect x="175.95" y="131.64" width="12.24" height="6.13" fill="#3264f0"/><rect x="188.13" y="131.64" width="12.24" height="6.13" fill="#329bf5"/><rect x="200.32" y="131.64" width="6.14" height="6.13" fill="#00ffff"/><rect x="206.41" y="131.64" width="6.14" height="6.13" fill="#96fab4"/><rect x="212.50" y="131.64" width="24.42" height="6.13" fill="#3264f0"/><rect x="236.88" y="131.64" width="6.14" height="6.13" fill="#00ffff"/><rect x="242.97" y="131.64" width="6.14" height="6.13" fill="#c8fa64"/><rect x="115.02" y="137.71" width="6.14" height="6.13" fill="#3264f0"/><rect x="121.11" y="137.71" width="6.14" height="6.13" fill="#329bf5"/><rect x="127.20" y="137.71" width="6.14" height="6.13" fill="#96fab4"/><rect x="133.30" y="137.71" width="12.24" height="6.13" fill="#3264f0"/><rect x="145.48" y="137.71" width="12.24" height="6.13" fill="#00ffff"/><rect x="157.67" y="137.71" width="6.14" height="6.13" fill="#c8fa64"/><rect x="163.76" y="137.71" width="6.14" height="6.13" fill="#329bf5"/><rect x="169.85" y="137.71" width="6.14" height="6.13" fill="#3264f0"/><rect x="175.95" y="137.71" width="6.14" height="6.13" fill="#0000f0"/><rect x="182.04" y="137.71" width="6.14" height="6.13" fill="#00ffff"/><rect x="188.13" y="137.71" width="6.14" height="6.13" fill="#3264f0"/><rect x="194.23" y="137.71" width="6.14" height="6.13" fill="#00ffff"/><rect x="200.32" y="137.71" width="6.14" height="6.13" fill="#3264f0"/><rect x="206.41" y="137.71" width="12.24" height="6.13" fill="#0000f0"/><rect x="218.60" y="137.71" width="6.14" height="6.13" fill="#3264f0"/><rect x="224.69" y="137.71" width="6.14" height="6.13" fill="#329bf5"/><rect x="230.78" y="137.71" width="6.14" height="6.13" fill="#3264f0"/><rect x="236.88" y="137.71" width="6.14" height="6.13" fill="#c8fa64"/><rect x="108.92" y="143.79" width="12.24" height="6.13" fill="#3264f0"/><rect x="121.11" y="143.79" width="12.24" height="6.13" fill="#329bf5"/><rect x="133.30" y="143.79" width="6.14" height="6.13" fill="#c8fa64"/><rect x="139.39" y="143.79" width="6.14" height="6.13" fill="#96fab4"/><rect x="145.48" y="143.79" width="6.14" height="6.13" fill="#00ffff"/><rect x="151.57" y="143.79" width="6.14" height="6.13" fill="#3264f0"/><rect x="157.67" y="143.79" width="24.42" height="6.13" fill="#0000f0"/><rect x="182.04" y="143.79" width="6.14" height="6.13" fill="#329bf5"/><rect x="188.13" y="143.79" width="12.24" height="6.13" fill="#3264f0"/><rect x="200.32" y="143.79" width="12.24" height="6.13" fill="#329bf5"/><rect x="212.50" y="143.79" width="6.14" height="6.13" fill="#3264f0"/><rect x="218.60" y="143.79" width="6.14" height="6.13" fill="#329bf5"/><rect x="224.69" y="143.79" width="12.24" height="6.13" fill="#96fab4"/><rect x="236.88" y="143.79" width="6.14" height="6.13" fill="#c8fa64"/><rect x="249.06" y="143.79" width="6.14" height="6.13" fill="#c8fa64"/><rect x="102.83" y="149.87" width="6.14" height="6.13" fill="#3264f0"/><rect x="108.92" y="149.87" width="6.14" height="6.13" fill="#329bf5"/><rect x="115.02" y="149.87" width="12.24" height="6.13" fill="#3264f0"/><rect x="127.20" y="149.87" width="6.14" height="6.13" fill="#0000f0"/><rect x="133.30" y="149.87" width="6.14" height="6.13" fill="#96fab4"/><rect x="139.39" y="149.87" width="6.14" height="6.13" fill="#329bf5"/><rect x="145.48" y="149.87" width="12.24" height="6.13" fill="#3264f0"/><rect x="157.67" y="149.87" width="12.24" height="6.13" fill="#0000f0"/><rect x="169.85" y="149.87" width="6.14" height="6.13" fill="#3264f0"/><rect x="175.95" y="149.87" width="6.14" height="6.13" fill="#00ffff"/><rect x="182.04" y="149.87" width="12.24" height="6.13" fill="#3264f0"/><rect x="194.23" y="149.87" width="6.14" height="6.13" fill="#329bf5"/><rect x="200.32" y="149.87" width="6.14" height="6.13" fill="#96fab4"/><rect x="206.41" y="149.87" width="6.14" height="6.13" fill="#3264f0"/><rect x="212.50" y="149.87" width="6.14" height="6.13" fill="#329bf5"/><rect x="218.60" y="149.87" width="6.14" height="6.13" fill="#00ffff"/><rect x="224.69" y="149.87" width="6.14" height="6.13" fill="#96fab4"/><rect x="230.78" y="149.87" width="6.14" height="6.13" fill="#ffaa00"/><rect x="242.97" y="149.87" width="6.14" height="6.13" fill="#ffaa00"/><rect x="249.06" y="149.87" width="6.14" height="6.13" fill="#c8fa64"/><rect x="108.92" y="155.95" width="12.24" height="6.13" fill="#3264f0"/><rect x="121.11" y="155.95" width="6.14" height="6.13" fill="#0000f0"/><rect x="127.20" y="155.95" width="12.24" height="6.13" fill="#3264f0"/><rect x="139.39" y="155.95" width="6.14" height="6.13" fill="#96fab4"/><rect x="145.48" y="155.95" width="6.14" height="6.13" fill="#3264f0"/><rect x="151.57" y="155.95" width="6.14" height="6.13" fill="#0000f0"/><rect x="157.67" y="155.95" width="18.33" height="6.13" fill="#329bf5"/><rect x="175.95" y="155.95" width="6.14" height="6.13" fill="#96fab4"/><rect x="182.04" y="155.95" width="6.14" height="6.13" fill="#3264f0"/><rect x="188.13" y="155.95" width="6.14" height="6.13" fill="#329bf5"/><rect x="194.23" y="155.95" width="6.14" height="6.13" fill="#96fab4"/><rect x="200.32" y="155.95" width="6.14" height="6.13" fill="#ff6e00"/><rect x="206.41" y="155.95" width="6.14" height="6.13" fill="#c8fa64"/><rect x="212.50" y="155.95" width="6.14" height="6.13" fill="#3264f0"/><rect x="218.60" y="155.95" width="6.14" height="6.13" fill="#ffff00"/><rect x="224.69" y="155.95" width="6.14" height="6.13" fill="#00ffff"/><rect x="242.97" y="155.95" width="6.14" height="6.13" fill="#ffaa00"/><rect x="249.06" y="155.95" width="6.14" height="6.13" fill="#3264f0"/><rect x="115.02" y="162.03" width="6.14" height="6.13" fill="#0000f0"/><rect x="121.11" y="162.03" width="6.14" height="6.13" fill="#3264f0"/><rect x="127.20" y="162.03" width="6.14" height="6.13" fill="#0000f0"/><rect x="133.30" y="162.03" width="18.33" height="6.13" fill="#3264f0"/><rect x="157.67" y="162.03" width="6.14" height="6.13" fill="#3264f0"/><rect x="163.76" y="162.03" width="12.24" height="6.13" fill="#96fab4"/><rect x="175.95" y="162.03" width="6.14" height="6.13" fill="#3264f0"/><rect x="182.04" y="162.03" width="6.14" height="6.13" fill="#329bf5"/><rect x="188.13" y="162.03" width="12.24" height="6.13" fill="#96fab4"/><rect x="200.32" y="162.03" width="6.14" height="6.13" fill="#ff0000"/><rect x="206.41" y="162.03" width="6.14" height="6.13" fill="#ff6e00"/><rect x="212.50" y="162.03" width="6.14" height="6.13" fill="#3264f0"/><rect x="242.97" y="162.03" width="6.14" height="6.13" fill="#c8fa64"/><rect x="163.76" y="168.10" width="6.14" height="6.13" fill="#0000f0"/><rect x="169.85" y="168.10" width="12.24" height="6.13" fill="#00ffff"/><rect x="182.04" y="168.10" width="6.14" height="6.13" fill="#c8fa64"/><rect x="188.13" y="168.10" width="6.14" height="6.13" fill="#00ffff"/><rect x="175.95" y="174.18" width="6.14" height="6.13" fill="#329bf5"/><rect x="182.04" y="174.18" width="6.14" height="6.13" fill="#00ffff"/><rect x="169.85" y="180.26" width="6.14" height="6.13" fill="#3264f0"/><rect x="175.95" y="180.26" width="6.14" height="6.13" fill="#329bf5"/><rect x="182.04" y="180.26" width="6.14" height="6.13" fill="#00ffff"/><rect x="169.85" y="186.34" width="6.14" height="6.13" fill="#0000f0"/><rect x="175.95" y="186.34" width="6.14" height="6.13" fill="#329bf5"/><path d="M-49.49 -38.55V192.42M-43.40 -38.55V192.42M-37.31 -38.55V192.42M-31.21 -38.55V192.42M-25.12 -38.55V192.42M-19.03 -38.55V192.42M-12.94 -38.55V192.42M-6.84 -38.55V192.42M-0.75 -38.55V192.42M5.34 -38.55V192.42M11.44 -38.55V192.42M17.53 -38.55V192.42M23.62 -38.55V192.42M29.71 -38.55V192.42M35.81 -38.55V192.42M41.90 -38.55V192.42M47.99 -38.55V192.42M54.09 -38.55V192.42M60.18 -38.55V192.42M66.27 -38.55V192.42M72.37 -38.55V192.42M78.46 -38.55V192.42M84.55 -38.55V192.42M90.64 -38.55V192.42M96.74 -38.55V192.42M102.83 -38.55V192.42M108.92 -38.55V192.42M115.02 -38.55V192.42M121.11 -38.55V192.42M127.20 -38.55V192.42M133.30 -38.55V192.42M139.39 -38.55V192.42M145.48 -38.55V192.42M151.57 -38.55V192.42M157.67 -38.55V192.42M163.76 -38.55V192.42M169.85 -38.55V192.42M175.95 -38.55V192.42M182.04 -38.55V192.42M188.13 -38.55V192.42M194.23 -38.55V192.42M200.32 -38.55V192.42M206.41 -38.55V192.42M212.50 -38.55V192.42M218.60 -38.55V192.42M224.69 -38.55V192.42M230.78 -38.55V192.42M236.88 -38.55V192.42M242.97 -38.55V192.42M249.06 -38.55V192.42M255.16 -38.55V192.42M261.25 -38.55V192.42M267.34 -38.55V192.42M273.44 -38.55V192.42M279.53 -38.55V192.42M285.62 -38.55V192.42M291.71 -38.55V192.42M297.81 -38.55V192.42M303.90 -38.55V192.42M309.99 -38.55V192.42M316.09 -38.55V192.42M322.18 -38.55V192.42M328.27 -38.55V192.42M334.37 -38.55V192.42M340.46 -38.55V192.42M346.55 -38.55V192.42M-49.49 -38.55H346.55M-49.49 -32.47H346.55M-49.49 -26.39H346.55M-49.49 -20.31H346.55M-49.49 -14.24H346.55M-49.49 -8.16H346.55M-49.49 -2.08H346.55M-49.49 4.00H346.55M-49.49 10.08H346.55M-49.49 16.15H346.55M-49.49 22.23H346.55M-49.49 28.31H346.55M-49.49 34.39H346.55M-49.49 40.47H346.55M-49.49 46.54H346.55M-49.49 52.62H346.55M-49.49 58.70H346.55M-49.49 64.78H346.55M-49.49 70.86H346.55M-49.49 76.93H346.55M-49.49 83.01H346.55M-49.49 89.09H346.55M-49.49 95.17H346.55M-49.49 101.25H346.55M-49.49 107.32H346.55M-49.49 113.40H346.55M-49.49 119.48H346.55M-49.49 125.56H346.55M-49.49 131.64H346.55M-49.49 137.71H346.55M-49.49 143.79H346.55M-49.49 149.87H346.55M-49.49 155.95H346.55M-49.49 162.03H346.55M-49.49 168.10H346.55M-49.49 174.18H346.55M-49.49 180.26H346.55M-49.49 186.34H346.55M-49.49 192.42H346.55" stroke="#6a6a78" stroke-width="0.42" fill="none"/></g>
<use href="#cn" transform="translate(-0.61 -2.01)" fill="none" stroke="#666" stroke-width="0.7"/>
<g transform="translate(-0.61 -2.01)"><path d="M178.1 205.3L181.5 212.2M184.0 229.2L183.1 235.1M180.3 255.6L184.0 252.4M237.2 206.5L237.7 212.8M236.3 231.5L234.0 237.4M250.9 177.3L254.5 172.3M240.6 194.2L243.6 188.3M258.8 155.3L260.7 161.0M264.1 147.3L265.9 145.9M191.7 255.4L195.1 250.8M204.2 258.8L208.8 255.4M215.6 259.9L220.2 256.1M171.2 262.2L172.1 259.9" stroke="#222" stroke-width="0.55" fill="none"/><circle cx="223.6" cy="178.0" r="1.00" fill="#222"/><circle cx="192.9" cy="203.7" r="0.70" fill="#222"/><circle cx="195.1" cy="201.9" r="0.60" fill="#222"/><circle cx="197.4" cy="204.6" r="0.60" fill="#222"/><circle cx="194.4" cy="205.8" r="0.50" fill="#222"/><circle cx="199.0" cy="203.1" r="0.50" fill="#222"/><circle cx="230.4" cy="211.0" r="0.50" fill="#222"/><circle cx="224.7" cy="204.6" r="0.40" fill="#222"/><circle cx="239.0" cy="161.0" r="0.90" fill="#222"/><circle cx="253.1" cy="168.9" r="0.60" fill="#222"/><circle cx="198.1" cy="247.8" r="0.35" fill="#222"/><circle cx="192.5" cy="252.2" r="0.45" fill="#222"/><circle cx="223.6" cy="235.9" r="0.55" fill="#222"/><circle cx="209.8" cy="251.1" r="0.45" fill="#222"/><circle cx="206.8" cy="253.6" r="0.45" fill="#222"/><circle cx="217.1" cy="237.0" r="0.55" fill="#222"/><circle cx="228.0" cy="242.7" r="0.45" fill="#222"/><circle cx="199.1" cy="253.8" r="0.55" fill="#222"/><circle cx="200.2" cy="246.1" r="0.55" fill="#222"/><circle cx="216.3" cy="236.1" r="0.55" fill="#222"/><circle cx="227.2" cy="238.2" r="0.45" fill="#222"/><circle cx="206.2" cy="245.3" r="0.35" fill="#222"/><circle cx="208.4" cy="242.1" r="0.35" fill="#222"/><circle cx="215.5" cy="245.5" r="0.55" fill="#222"/><circle cx="208.4" cy="251.4" r="0.35" fill="#222"/><circle cx="202.0" cy="253.7" r="0.45" fill="#222"/><circle cx="202.3" cy="251.5" r="0.45" fill="#222"/><circle cx="211.9" cy="240.0" r="0.35" fill="#222"/><circle cx="215.2" cy="242.1" r="0.35" fill="#222"/><circle cx="204.0" cy="248.4" r="0.35" fill="#222"/><circle cx="198.7" cy="257.4" r="0.45" fill="#222"/><circle cx="223.8" cy="234.4" r="0.45" fill="#222"/><circle cx="201.4" cy="249.6" r="0.55" fill="#222"/><circle cx="212.0" cy="243.0" r="0.45" fill="#222"/><circle cx="201.6" cy="249.4" r="0.35" fill="#222"/><circle cx="200.1" cy="241.7" r="0.35" fill="#222"/><circle cx="210.2" cy="253.2" r="0.55" fill="#222"/><circle cx="203.7" cy="250.5" r="0.35" fill="#222"/><circle cx="193.8" cy="254.2" r="0.55" fill="#222"/><circle cx="212.7" cy="235.7" r="0.45" fill="#222"/><circle cx="211.7" cy="237.2" r="0.55" fill="#222"/><circle cx="210.1" cy="250.0" r="0.35" fill="#222"/><circle cx="207.4" cy="243.8" r="0.35" fill="#222"/><circle cx="201.5" cy="251.2" r="0.45" fill="#222"/><circle cx="221.6" cy="233.0" r="0.45" fill="#222"/><circle cx="203.5" cy="252.3" r="0.45" fill="#222"/><circle cx="218.8" cy="232.6" r="0.45" fill="#222"/><circle cx="218.7" cy="242.2" r="0.55" fill="#222"/><ellipse cx="208.8" cy="207.6" rx="3.6" ry="1.9" transform="rotate(-20 208.8 207.6)" fill="none" stroke="#222" stroke-width="0.5"/></g>
</g>
<path d="M288.40 406.50V735.20M349.33 406.50V735.20M410.26 406.50V735.20M471.19 406.50V735.20M532.12 406.50V735.20M593.05 406.50V735.20" stroke="#c8c8c8" stroke-width="0.6" stroke-dasharray="3.9 10.1" stroke-dashoffset="8.1" fill="none"/><path d="M238.10 690.42H634.10M238.10 629.64H634.10M238.10 568.86H634.10M238.10 508.08H634.10M238.10 447.30H634.10" stroke="#c8c8c8" stroke-width="0.6" stroke-dasharray="3.9 10.1" fill="none"/>
<g transform="translate(288.40 447.30)">
<g transform="translate(-1.46 -1.70)"><path d="M178.1 205.3L181.5 212.2M184.0 229.2L183.1 235.1M180.3 255.6L184.0 252.4M237.2 206.5L237.7 212.8M236.3 231.5L234.0 237.4M250.9 177.3L254.5 172.3M240.6 194.2L243.6 188.3M258.8 155.3L260.7 161.0M264.1 147.3L265.9 145.9M191.7 255.4L195.1 250.8M204.2 258.8L208.8 255.4M215.6 259.9L220.2 256.1M171.2 262.2L172.1 259.9" stroke="#222" stroke-width="0.55" fill="none"/><circle cx="223.6" cy="178.0" r="1.00" fill="#222"/><circle cx="192.9" cy="203.7" r="0.70" fill="#222"/><circle cx="195.1" cy="201.9" r="0.60" fill="#222"/><circle cx="197.4" cy="204.6" r="0.60" fill="#222"/><circle cx="194.4" cy="205.8" r="0.50" fill="#222"/><circle cx="199.0" cy="203.1" r="0.50" fill="#222"/><circle cx="230.4" cy="211.0" r="0.50" fill="#222"/><circle cx="224.7" cy="204.6" r="0.40" fill="#222"/><circle cx="239.0" cy="161.0" r="0.90" fill="#222"/><circle cx="253.1" cy="168.9" r="0.60" fill="#222"/><circle cx="198.1" cy="247.8" r="0.35" fill="#222"/><circle cx="192.5" cy="252.2" r="0.45" fill="#222"/><circle cx="223.6" cy="235.9" r="0.55" fill="#222"/><circle cx="209.8" cy="251.1" r="0.45" fill="#222"/><circle cx="206.8" cy="253.6" r="0.45" fill="#222"/><circle cx="217.1" cy="237.0" r="0.55" fill="#222"/><circle cx="228.0" cy="242.7" r="0.45" fill="#222"/><circle cx="199.1" cy="253.8" r="0.55" fill="#222"/><circle cx="200.2" cy="246.1" r="0.55" fill="#222"/><circle cx="216.3" cy="236.1" r="0.55" fill="#222"/><circle cx="227.2" cy="238.2" r="0.45" fill="#222"/><circle cx="206.2" cy="245.3" r="0.35" fill="#222"/><circle cx="208.4" cy="242.1" r="0.35" fill="#222"/><circle cx="215.5" cy="245.5" r="0.55" fill="#222"/><circle cx="208.4" cy="251.4" r="0.35" fill="#222"/><circle cx="202.0" cy="253.7" r="0.45" fill="#222"/><circle cx="202.3" cy="251.5" r="0.45" fill="#222"/><circle cx="211.9" cy="240.0" r="0.35" fill="#222"/><circle cx="215.2" cy="242.1" r="0.35" fill="#222"/><circle cx="204.0" cy="248.4" r="0.35" fill="#222"/><circle cx="198.7" cy="257.4" r="0.45" fill="#222"/><circle cx="223.8" cy="234.4" r="0.45" fill="#222"/><circle cx="201.4" cy="249.6" r="0.55" fill="#222"/><circle cx="212.0" cy="243.0" r="0.45" fill="#222"/><circle cx="201.6" cy="249.4" r="0.35" fill="#222"/><circle cx="200.1" cy="241.7" r="0.35" fill="#222"/><circle cx="210.2" cy="253.2" r="0.55" fill="#222"/><circle cx="203.7" cy="250.5" r="0.35" fill="#222"/><circle cx="193.8" cy="254.2" r="0.55" fill="#222"/><circle cx="212.7" cy="235.7" r="0.45" fill="#222"/><circle cx="211.7" cy="237.2" r="0.55" fill="#222"/><circle cx="210.1" cy="250.0" r="0.35" fill="#222"/><circle cx="207.4" cy="243.8" r="0.35" fill="#222"/><circle cx="201.5" cy="251.2" r="0.45" fill="#222"/><circle cx="221.6" cy="233.0" r="0.45" fill="#222"/><circle cx="203.5" cy="252.3" r="0.45" fill="#222"/><circle cx="218.8" cy="232.6" r="0.45" fill="#222"/><circle cx="218.7" cy="242.2" r="0.55" fill="#222"/><ellipse cx="208.8" cy="207.6" rx="3.6" ry="1.9" transform="rotate(-20 208.8 207.6)" fill="none" stroke="#222" stroke-width="0.5"/></g>
</g>
<g clip-path="url(#clipC)"><rect x="238.1" y="406.5" width="396.0" height="328.7" fill="#0aa00a"/><path d="M256.2 508.0 L265.6 502.0 L277.5 497.4 L291.2 494.7 L304.8 492.7 L315.1 491.8 L315.1 473.9 L320.2 466.2 L328.7 467.9 L335.6 465.7 L344.1 467.9 L352.6 466.2 L359.5 460.2 L390.0 460.2 L360.0 467.1 L460.7 467.1 L462.4 491.0 L459.0 492.7 L452.2 496.1 L448.7 501.2 L450.4 506.3 L445.3 514.8 L440.2 520.0 L433.4 517.4 L424.8 513.1 L416.3 508.9 L404.4 504.6 L394.1 502.0 L382.2 502.9 L370.2 506.3 L360.0 504.6 L362.9 507.2 L349.2 508.9 L340.7 510.6 L332.2 514.0 L323.6 518.3 L313.4 523.4 L303.1 527.1 L292.9 528.8 L284.4 526.5 L276.7 522.5 L270.7 517.4 L265.6 513.1 L258.8 510.6Z" fill="#fff5d7" filter="url(#s0)"/><path d="M345.8 509.7 L359.5 508.9 L373.1 508.0 L390.0 508.9 L370.2 507.2 L380.5 509.7 L378.8 521.7 L366.8 525.1 L379.9 525.9 L369.7 523.4 L359.5 525.1 L350.9 520.0Z" fill="#fff5d7" filter="url(#s1)"/><path d="M441.9 506.3 L452.2 501.2 L459.0 506.3 L455.6 518.3 L445.3 523.4 L440.2 520.0Z" fill="#fff5d7" filter="url(#s2)"/><path d="M279.2 528.5 L296.3 529.4 L311.7 525.1 L328.7 518.3 L342.4 513.1 L349.2 518.3 L335.6 530.2 L320.2 538.7 L301.4 542.2 L286.1 538.7Z" fill="#fff5d7" filter="url(#s3)"/><path d="M288.6 475.6 L296.3 473.9 L304.8 475.6 L315.1 477.3 L325.3 479.0 L335.6 480.7 L345.8 481.6 L352.6 483.3 L359.5 483.3 L369.7 484.1 L376.5 485.8 L374.8 487.9 L362.9 486.7 L352.6 486.7 L342.4 488.4 L335.6 491.0 L328.7 491.8 L320.2 491.0 L308.3 491.8 L298.0 491.0 L289.5 491.0 L290.3 484.1 L291.2 479.9Z" fill="#0aa00a" filter="url(#s4)"/><path d="M360.0 479.9 L370.2 483.3 L378.8 486.7 L377.1 488.9 L366.8 486.7 L360.0 484.1Z" fill="#0aa00a" filter="url(#s4)"/><path d="M274.1 525.1 L291.2 530.2 L311.7 526.8 L332.2 521.7 L349.2 525.1 L359.5 531.9 L345.8 545.6 L321.9 552.4 L301.4 552.4 L284.4 545.6 L277.5 535.3Z" fill="#ffffff" filter="url(#s5)"/><path d="M281.0 545.6 L308.3 552.4 L342.4 552.4 L369.7 545.6 L390.0 552.4 L390.0 570.0 L308.3 570.0 L291.2 562.6Z" fill="#ffffff" filter="url(#s6)"/><path d="M480.0 476.3 L490.2 474.6 L495.4 481.4 L490.2 490.0 L480.0 491.7Z" fill="#ffffff" filter="url(#s7)"/><path d="M556.8 445.6 L565.3 443.9 L572.2 449.0 L576.4 456.7 L580.7 463.5 L577.3 471.2 L572.2 474.6 L565.3 481.4 L560.2 488.3 L555.1 495.1 L550.0 501.9 L544.0 507.0 L539.7 512.2 L538.0 508.7 L543.1 500.2 L545.7 488.3 L544.8 479.7 L541.4 471.2 L544.8 462.7 L550.0 454.1 L553.4 449.0Z" fill="#ffff5a" filter="url(#s8)"/><path d="M589.2 464.4 L597.7 460.1 L608.0 457.5 L622.5 455.0 L619.1 462.7 L613.1 471.2 L606.3 473.2 L599.5 469.5 L592.6 472.9 L589.2 469.5Z" fill="#ffff5a" filter="url(#s9)"/><path d="M580.7 471.2 L589.2 471.2 L599.5 474.6 L597.7 486.6 L589.2 488.3 L580.7 484.8 L577.3 476.3Z" fill="#ffff5a" filter="url(#s10)"/><path d="M508.5 506.0 L517.6 509.9 L516.9 515.6 L521.0 520.1 L527.8 523.5 L536.9 520.1 L546.5 523.5 L539.2 529.2 L532.4 532.6 L528.3 538.3 L532.4 545.1 L539.2 553.1 L542.6 559.9 L541.5 566.8 L533.5 565.6 L525.6 570.2 L516.5 567.9 L508.5 561.1 L498.3 565.6 L489.2 561.1 L483.5 556.5 L481.9 547.4 L485.7 538.3 L490.3 531.5 L496.0 520.1 L502.8 511.0Z" fill="#ffff5a" filter="url(#s11)"/><path d="M495.6 520.0 L545.6 521.1 L536.5 533.7 L534.2 545.0 L542.9 554.1 L543.8 562.1 L536.5 564.4 L527.4 558.7 L518.3 556.4 L511.5 563.2 L506.9 571.2 L497.8 576.9 L486.5 579.6 L480.8 572.3 L479.6 561.0 L485.3 549.6 L479.6 540.5 L477.4 531.4 L484.2 522.3Z" fill="#ffff5a" filter="url(#s12)"/><path d="M429.4 565.1 L432.8 559.6 L439.6 555.5 L447.8 556.2 L456.0 558.2 L460.1 562.3 L458.7 569.1 L454.6 574.6 L450.5 580.1 L445.1 584.2 L438.2 584.2 L434.1 578.7 L430.7 571.9Z" fill="#ffff5a" filter="url(#s12)"/><path d="M427.3 563.7 L439.6 552.8 L461.4 556.9 L476.5 565.1 L477.8 581.4 L471.0 596.5 L454.6 599.2 L441.0 591.0 L430.0 580.1Z" fill="#ffff5a" filter="url(#s13)"/><path d="M424.6 529.6 L435.5 532.3 L446.4 536.4 L465.5 539.1 L465.5 542.5 L446.4 540.5 L434.1 536.4 L424.6 533.0Z" fill="#ffff5a" filter="url(#s14)"/><path d="M445.3 525.1 L455.6 521.7 L469.2 518.3 L479.5 521.7 L482.9 530.2 L479.5 538.7 L482.9 543.0 L469.2 543.9 L455.6 543.0 L448.7 538.7 L441.9 531.9Z" fill="#ffff5a" filter="url(#s15)"/><path d="M450.4 496.9 L462.4 495.7 L482.9 496.9 L482.9 501.2 L462.4 501.2 L450.4 500.3Z" fill="#ffff5a" filter="url(#s16)"/><path d="M424.8 530.2 L435.1 531.9 L445.3 537.0 L443.6 539.6 L433.4 536.2 L424.8 533.6Z" fill="#ffff5a" filter="url(#s17)"/><path d="M479.5 501.2 L493.1 504.6 L496.5 518.3 L489.7 531.9 L482.9 530.2 L479.5 521.7 L482.9 511.4Z" fill="#ffff5a" filter="url(#s10)"/><path d="M468.3 583.7 L495.6 579.2 L518.3 572.3 L532.0 570.1 L536.5 579.2 L527.4 595.1 L513.8 608.7 L495.6 615.6 L475.1 620.1 L454.6 617.8 L452.3 606.5 L459.2 592.8Z" fill="#ffff5a" filter="url(#s18)"/><path d="M404.6 588.3 L427.3 588.3 L450.1 590.5 L452.3 611.0 L431.9 615.6 L413.7 611.0 L404.6 601.9Z" fill="#ffff5a" filter="url(#s19)"/><path d="M464.8 615.6 L477.4 614.4 L476.2 626.9 L468.3 626.9Z" fill="#ffff5a" filter="url(#s16)"/><path d="M461.4 629.2 L476.2 628.1 L476.2 638.3 L461.4 639.5Z" fill="#ffff5a" filter="url(#s17)"/><path d="M507.3 471.2 L531.2 467.8 L544.8 471.2 L544.8 491.7 L531.2 498.5 L514.1 495.1 L507.3 484.8Z" fill="#ffff5a" filter="url(#s20)"/><path d="M452.8 520.1 L475.5 517.8 L498.3 520.1 L489.2 538.3 L482.3 552.0 L464.1 547.4 L452.8 533.8Z" fill="#ffff5a" filter="url(#s21)"/><path d="M425.0 524.6 L445.5 520.0 L477.4 531.4 L479.6 545.0 L456.9 547.3 L436.4 540.5 L425.0 533.7Z" fill="#ffff5a" filter="url(#s21)"/><path d="M307.4 475.6 L316.8 475.6 L328.7 478.2 L340.7 480.7 L349.2 481.6 L349.2 483.8 L339.0 483.3 L325.3 481.6 L313.4 479.0 L307.4 477.6Z" fill="#ffff5a" filter="url(#s22)"/><path d="M304.0 464.5 L313.4 464.5 L313.4 469.1 L304.0 469.1Z" fill="#ffff5a" filter="url(#s22)"/><path d="M323.6 456.8 L337.3 456.8 L337.3 463.3 L323.6 463.3Z" fill="#ffff5a" filter="url(#s16)"/><path d="M286.1 497.4 L311.7 496.4 L311.7 500.2 L286.1 500.9Z" fill="#ffff5a" filter="url(#s17)"/><path d="M260.5 508.9 L267.3 508.0 L275.0 517.4 L271.6 519.1 L263.9 514.8Z" fill="#ffff5a" filter="url(#s17)"/><path d="M291.2 477.3 L304.8 478.2 L304.8 484.1 L291.2 484.1Z" fill="#ffff5a" filter="url(#s23)"/><path d="M530.8 598.5 L536.5 597.4 L536.5 611.0 L533.1 613.3Z" fill="#ffff5a" filter="url(#s17)"/><path d="M556.8 445.6 L565.3 443.9 L572.2 449.0 L576.4 456.7 L580.7 463.5 L577.3 471.2 L572.2 474.6 L565.3 481.4 L560.2 488.3 L555.1 495.1 L550.0 501.9 L544.0 507.0 L539.7 512.2 L538.0 508.7 L543.1 500.2 L545.7 488.3 L544.8 479.7 L541.4 471.2 L544.8 462.7 L550.0 454.1 L553.4 449.0Z" fill="#d02810" filter="url(#s24)"/><path d="M589.2 464.4 L597.7 460.1 L608.0 457.5 L622.5 455.0 L619.1 462.7 L613.1 471.2 L606.3 473.2 L599.5 469.5 L592.6 472.9 L589.2 469.5Z" fill="#d02810" filter="url(#s24)"/><path d="M580.7 471.2 L589.2 471.2 L599.5 474.6 L597.7 486.6 L589.2 488.3 L580.7 484.8 L577.3 476.3Z" fill="#d02810" filter="url(#s24)"/><path d="M508.5 506.0 L517.6 509.9 L516.9 515.6 L521.0 520.1 L527.8 523.5 L536.9 520.1 L546.5 523.5 L539.2 529.2 L532.4 532.6 L528.3 538.3 L532.4 545.1 L539.2 553.1 L542.6 559.9 L541.5 566.8 L533.5 565.6 L525.6 570.2 L516.5 567.9 L508.5 561.1 L498.3 565.6 L489.2 561.1 L483.5 556.5 L481.9 547.4 L485.7 538.3 L490.3 531.5 L496.0 520.1 L502.8 511.0Z" fill="#d02810" filter="url(#s24)"/><path d="M495.6 520.0 L545.6 521.1 L536.5 533.7 L534.2 545.0 L542.9 554.1 L543.8 562.1 L536.5 564.4 L527.4 558.7 L518.3 556.4 L511.5 563.2 L506.9 571.2 L497.8 576.9 L486.5 579.6 L480.8 572.3 L479.6 561.0 L485.3 549.6 L479.6 540.5 L477.4 531.4 L484.2 522.3Z" fill="#d02810" filter="url(#s24)"/><path d="M429.4 565.1 L432.8 559.6 L439.6 555.5 L447.8 556.2 L456.0 558.2 L460.1 562.3 L458.7 569.1 L454.6 574.6 L450.5 580.1 L445.1 584.2 L438.2 584.2 L434.1 578.7 L430.7 571.9Z" fill="#d02810" filter="url(#s24)"/><circle cx="509.0" cy="506.5" r="1.1" fill="#c81400"/><circle cx="515.6" cy="511.5" r="1.1" fill="#c81400"/><circle cx="539.2" cy="560.0" r="1.1" fill="#c81400"/><circle cx="491.0" cy="610.1" r="1.1" fill="#c81400"/><circle cx="492.8" cy="611.5" r="1.1" fill="#c81400"/><circle cx="448.9" cy="569.1" r="1.1" fill="#c81400"/><circle cx="496.7" cy="563.2" r="1.1" fill="#c81400"/><circle cx="433.7" cy="562.8" r="1.1" fill="#c81400"/><circle cx="509.2" cy="607.6" r="1.1" fill="#c81400"/><circle cx="463.2" cy="540.8" r="1.1" fill="#c81400"/><circle cx="508.5" cy="506.3" r="1.1" fill="#c81400"/><circle cx="496.5" cy="518.3" r="1.1" fill="#c81400"/><circle cx="563.6" cy="482.8" r="1.1" fill="#c81400"/><circle cx="572.3" cy="470.9" r="1.1" fill="#c81400"/><circle cx="566.5" cy="477.2" r="1.1" fill="#c81400"/><circle cx="509.0" cy="506.5" r="1.1" fill="#c81400"/><circle cx="551.7" cy="495.1" r="1.1" fill="#c81400"/><ellipse cx="410.7" cy="525.1" rx="3.1" ry="1.9" fill="#0046c8"/><ellipse cx="515.0" cy="451.6" rx="1.7" ry="2.4" fill="#0046c8"/><ellipse cx="607.6" cy="474.3" rx="2.7" ry="1.0" fill="#0046c8"/><ellipse cx="532.7" cy="560.0" rx="2.0" ry="1.6" fill="#0046c8"/><ellipse cx="506.9" cy="571.9" rx="1.8" ry="1.8" fill="#0046c8"/><ellipse cx="491.5" cy="568.9" rx="2.3" ry="1.4" fill="#0046c8"/><ellipse cx="330.4" cy="494.0" rx="1.7" ry="0.9" fill="#0046c8"/><ellipse cx="342.4" cy="556.1" rx="1.7" ry="1.2" fill="#0046c8"/><ellipse cx="351.8" cy="562.6" rx="1.5" ry="0.9" fill="#0046c8"/><ellipse cx="333.0" cy="461.6" rx="1.0" ry="1.4" fill="#0046c8"/><ellipse cx="345.8" cy="520.8" rx="1.0" ry="0.7" fill="#0046c8"/><ellipse cx="410.2" cy="524.6" rx="2.3" ry="1.4" fill="#0046c8"/><ellipse cx="394.1" cy="537.0" rx="1.7" ry="0.7" fill="#0046c8"/><ellipse cx="522.9" cy="547.3" rx="1.1" ry="1.8" fill="#0046c8"/><ellipse cx="523.3" cy="546.3" rx="0.9" ry="2.3" fill="#0046c8"/><ellipse cx="533.5" cy="558.8" rx="1.8" ry="1.8" fill="#0046c8"/></g>
<rect x="16.6" y="18.5" width="396.0" height="328.7" fill="none" stroke="#000" stroke-width="1"/>
<rect x="464.2" y="18.4" width="396.0" height="328.7" fill="none" stroke="#000" stroke-width="1"/>
<rect x="238.1" y="406.5" width="396.0" height="328.7" fill="none" stroke="#000" stroke-width="1"/>
<text x="66.8" y="15.1" font-size="10" text-anchor="middle" >80°E</text><text x="66.8" y="359.9" font-size="10" text-anchor="middle" >80°E</text><path d="M66.50 18.50v3.5M66.50 347.20v-3.5" stroke="#555" stroke-width="0.7"/><text x="127.7" y="15.1" font-size="10" text-anchor="middle" >90°E</text><text x="127.7" y="359.9" font-size="10" text-anchor="middle" >90°E</text><path d="M127.43 18.50v3.5M127.43 347.20v-3.5" stroke="#555" stroke-width="0.7"/><text x="188.7" y="15.1" font-size="10" text-anchor="middle" >100°E</text><text x="188.7" y="359.9" font-size="10" text-anchor="middle" >100°E</text><path d="M188.36 18.50v3.5M188.36 347.20v-3.5" stroke="#555" stroke-width="0.7"/><text x="249.6" y="15.1" font-size="10" text-anchor="middle" >110°E</text><text x="249.6" y="359.9" font-size="10" text-anchor="middle" >110°E</text><path d="M249.29 18.50v3.5M249.29 347.20v-3.5" stroke="#555" stroke-width="0.7"/><text x="310.5" y="15.1" font-size="10" text-anchor="middle" >120°E</text><text x="310.5" y="359.9" font-size="10" text-anchor="middle" >120°E</text><path d="M310.22 18.50v3.5M310.22 347.20v-3.5" stroke="#555" stroke-width="0.7"/><text x="371.4" y="15.1" font-size="10" text-anchor="middle" >130°E</text><text x="371.4" y="359.9" font-size="10" text-anchor="middle" >130°E</text><path d="M371.15 18.50v3.5M371.15 347.20v-3.5" stroke="#555" stroke-width="0.7"/><text font-size="10" text-anchor="middle" transform="translate(14.0 59.3) rotate(-90)">50°N</text><text font-size="10" text-anchor="middle" transform="translate(425.3 59.3) rotate(-90)">50°N</text><path d="M16.60 59.30h3.5M412.60 59.30h-3.5" stroke="#555" stroke-width="0.7"/><text font-size="10" text-anchor="middle" transform="translate(14.0 120.1) rotate(-90)">40°N</text><text font-size="10" text-anchor="middle" transform="translate(425.3 120.1) rotate(-90)">40°N</text><path d="M16.60 120.08h3.5M412.60 120.08h-3.5" stroke="#555" stroke-width="0.7"/><text font-size="10" text-anchor="middle" transform="translate(14.0 180.9) rotate(-90)">30°N</text><text font-size="10" text-anchor="middle" transform="translate(425.3 180.9) rotate(-90)">30°N</text><path d="M16.60 180.86h3.5M412.60 180.86h-3.5" stroke="#555" stroke-width="0.7"/><text font-size="10" text-anchor="middle" transform="translate(14.0 241.6) rotate(-90)">20°N</text><text font-size="10" text-anchor="middle" transform="translate(425.3 241.6) rotate(-90)">20°N</text><path d="M16.60 241.64h3.5M412.60 241.64h-3.5" stroke="#555" stroke-width="0.7"/><text font-size="10" text-anchor="middle" transform="translate(14.0 302.4) rotate(-90)">10°N</text><text font-size="10" text-anchor="middle" transform="translate(425.3 302.4) rotate(-90)">10°N</text><path d="M16.60 302.42h3.5M412.60 302.42h-3.5" stroke="#555" stroke-width="0.7"/><text x="514.7" y="17.0" font-size="10" text-anchor="middle" >80°E</text><text x="514.7" y="359.8" font-size="10" text-anchor="middle" >80°E</text><path d="M514.40 18.40v3.5M514.40 347.10v-3.5" stroke="#555" stroke-width="0.7"/><text x="575.6" y="17.0" font-size="10" text-anchor="middle" >90°E</text><text x="575.6" y="359.8" font-size="10" text-anchor="middle" >90°E</text><path d="M575.33 18.40v3.5M575.33 347.10v-3.5" stroke="#555" stroke-width="0.7"/><text x="636.6" y="17.0" font-size="10" text-anchor="middle" >100°E</text><text x="636.6" y="359.8" font-size="10" text-anchor="middle" >100°E</text><path d="M636.26 18.40v3.5M636.26 347.10v-3.5" stroke="#555" stroke-width="0.7"/><text x="697.5" y="17.0" font-size="10" text-anchor="middle" >110°E</text><text x="697.5" y="359.8" font-size="10" text-anchor="middle" >110°E</text><path d="M697.19 18.40v3.5M697.19 347.10v-3.5" stroke="#555" stroke-width="0.7"/><text x="758.4" y="17.0" font-size="10" text-anchor="middle" >120°E</text><text x="758.4" y="359.8" font-size="10" text-anchor="middle" >120°E</text><path d="M758.12 18.40v3.5M758.12 347.10v-3.5" stroke="#555" stroke-width="0.7"/><text x="819.3" y="17.0" font-size="10" text-anchor="middle" >130°E</text><text x="819.3" y="359.8" font-size="10" text-anchor="middle" >130°E</text><path d="M819.05 18.40v3.5M819.05 347.10v-3.5" stroke="#555" stroke-width="0.7"/><text font-size="10" text-anchor="middle" transform="translate(463.4 59.3) rotate(-90)">50°N</text><text font-size="10" text-anchor="middle" transform="translate(873.1 59.3) rotate(-90)">50°N</text><path d="M464.20 59.30h3.5M860.20 59.30h-3.5" stroke="#555" stroke-width="0.7"/><text font-size="10" text-anchor="middle" transform="translate(463.4 120.1) rotate(-90)">40°N</text><text font-size="10" text-anchor="middle" transform="translate(873.1 120.1) rotate(-90)">40°N</text><path d="M464.20 120.08h3.5M860.20 120.08h-3.5" stroke="#555" stroke-width="0.7"/><text font-size="10" text-anchor="middle" transform="translate(463.4 180.9) rotate(-90)">30°N</text><text font-size="10" text-anchor="middle" transform="translate(873.1 180.9) rotate(-90)">30°N</text><path d="M464.20 180.86h3.5M860.20 180.86h-3.5" stroke="#555" stroke-width="0.7"/><text font-size="10" text-anchor="middle" transform="translate(463.4 241.6) rotate(-90)">20°N</text><text font-size="10" text-anchor="middle" transform="translate(873.1 241.6) rotate(-90)">20°N</text><path d="M464.20 241.64h3.5M860.20 241.64h-3.5" stroke="#555" stroke-width="0.7"/><text font-size="10" text-anchor="middle" transform="translate(463.4 302.4) rotate(-90)">10°N</text><text font-size="10" text-anchor="middle" transform="translate(873.1 302.4) rotate(-90)">10°N</text><path d="M464.20 302.42h3.5M860.20 302.42h-3.5" stroke="#555" stroke-width="0.7"/><text x="288.7" y="405.2" font-size="10" text-anchor="middle" >80°E</text><text x="288.7" y="747.9" font-size="10" text-anchor="middle" >80°E</text><path d="M288.40 406.50v3.5M288.40 735.20v-3.5" stroke="#555" stroke-width="0.7"/><text x="349.6" y="405.2" font-size="10" text-anchor="middle" >90°E</text><text x="349.6" y="747.9" font-size="10" text-anchor="middle" >90°E</text><path d="M349.33 406.50v3.5M349.33 735.20v-3.5" stroke="#555" stroke-width="0.7"/><text x="410.6" y="405.2" font-size="10" text-anchor="middle" >100°E</text><text x="410.6" y="747.9" font-size="10" text-anchor="middle" >100°E</text><path d="M410.26 406.50v3.5M410.26 735.20v-3.5" stroke="#555" stroke-width="0.7"/><text x="471.5" y="405.2" font-size="10" text-anchor="middle" >110°E</text><text x="471.5" y="747.9" font-size="10" text-anchor="middle" >110°E</text><path d="M471.19 406.50v3.5M471.19 735.20v-3.5" stroke="#555" stroke-width="0.7"/><text x="532.4" y="405.2" font-size="10" text-anchor="middle" >120°E</text><text x="532.4" y="747.9" font-size="10" text-anchor="middle" >120°E</text><path d="M532.12 406.50v3.5M532.12 735.20v-3.5" stroke="#555" stroke-width="0.7"/><text x="593.3" y="405.2" font-size="10" text-anchor="middle" >130°E</text><text x="593.3" y="747.9" font-size="10" text-anchor="middle" >130°E</text><path d="M593.05 406.50v3.5M593.05 735.20v-3.5" stroke="#555" stroke-width="0.7"/><text font-size="10" text-anchor="middle" transform="translate(237.2 447.3) rotate(-90)">50°N</text><text font-size="10" text-anchor="middle" transform="translate(646.8 447.3) rotate(-90)">50°N</text><path d="M238.10 447.30h3.5M634.10 447.30h-3.5" stroke="#555" stroke-width="0.7"/><text font-size="10" text-anchor="middle" transform="translate(237.2 508.1) rotate(-90)">40°N</text><text font-size="10" text-anchor="middle" transform="translate(646.8 508.1) rotate(-90)">40°N</text><path d="M238.10 508.08h3.5M634.10 508.08h-3.5" stroke="#555" stroke-width="0.7"/><text font-size="10" text-anchor="middle" transform="translate(237.2 568.9) rotate(-90)">30°N</text><text font-size="10" text-anchor="middle" transform="translate(646.8 568.9) rotate(-90)">30°N</text><path d="M238.10 568.86h3.5M634.10 568.86h-3.5" stroke="#555" stroke-width="0.7"/><text font-size="10" text-anchor="middle" transform="translate(237.2 629.6) rotate(-90)">20°N</text><text font-size="10" text-anchor="middle" transform="translate(646.8 629.6) rotate(-90)">20°N</text><path d="M238.10 629.64h3.5M634.10 629.64h-3.5" stroke="#555" stroke-width="0.7"/><text font-size="10" text-anchor="middle" transform="translate(237.2 690.4) rotate(-90)">10°N</text><text font-size="10" text-anchor="middle" transform="translate(646.8 690.4) rotate(-90)">10°N</text><path d="M238.10 690.42h3.5M634.10 690.42h-3.5" stroke="#555" stroke-width="0.7"/><text x="399.5" y="27.9" font-size="5.6" text-anchor="middle" style="font-family:'Liberation Sans',sans-serif" fill="#111">N</text><path d="M399.50 30.10L394.40 45.80L399.50 40.10Z" fill="#000"/><path d="M399.50 30.10L403.90 45.30L399.50 40.10Z" fill="#fff" stroke="#000" stroke-width="0.6"/><text x="847.1" y="28.4" font-size="5.6" text-anchor="middle" style="font-family:'Liberation Sans',sans-serif" fill="#111">N</text><path d="M847.10 30.60L842.00 46.30L847.10 40.60Z" fill="#000"/><path d="M847.10 30.60L851.50 45.80L847.10 40.60Z" fill="#fff" stroke="#000" stroke-width="0.6"/><text x="621.2" y="415.9" font-size="5.6" text-anchor="middle" style="font-family:'Liberation Sans',sans-serif" fill="#111">N</text><path d="M621.20 418.10L616.10 433.80L621.20 428.10Z" fill="#000"/><path d="M621.20 418.10L625.60 433.30L621.20 428.10Z" fill="#fff" stroke="#000" stroke-width="0.6"/><rect x="287.90" y="335.30" width="82.90" height="4.30" fill="#fff" stroke="#000" stroke-width="0.6"/><rect x="287.90" y="335.00" width="41.45" height="4.90" fill="#000"/><text x="288.7" y="331.6" font-size="10" text-anchor="middle" >0</text><text x="329.3" y="331.6" font-size="10" text-anchor="middle" >750</text><text x="361.2" y="331.6" font-size="10" text-anchor="start" >1500 km</text><rect x="740.70" y="338.20" width="82.90" height="4.30" fill="#fff" stroke="#000" stroke-width="0.6"/><rect x="740.70" y="337.90" width="41.45" height="4.90" fill="#000"/><text x="741.5" y="334.3" font-size="10" text-anchor="middle" >0</text><text x="782.2" y="334.3" font-size="10" text-anchor="middle" >750</text><text x="814.0" y="334.3" font-size="10" text-anchor="start" >1500 km</text><rect x="256.70" y="727.00" width="82.90" height="4.40" fill="#fff" stroke="#000" stroke-width="0.6"/><rect x="256.70" y="726.70" width="41.45" height="5.00" fill="#000"/><text x="257.5" y="722.9" font-size="10" text-anchor="middle" >0</text><text x="298.1" y="722.9" font-size="10" text-anchor="middle" >750</text><text x="330.0" y="722.9" font-size="10" text-anchor="start" >1500 km</text><text x="28.3" y="222.7" font-size="11.4">XCO<tspan font-size="6.4" dy="1.6">2anc</tspan><tspan dy="-1.6" font-size="11.4">(ppm)</tspan></text><rect x="22.60" y="230.30" width="27.90" height="13.90" fill="#0000f0" stroke="#8c8c8c" stroke-width="0.5"/><text x="55.6" y="241.6" font-size="11" text-anchor="start" >−1.55 − −0.57</text><rect x="125.30" y="230.30" width="27.90" height="13.90" fill="#c8fa64" stroke="#8c8c8c" stroke-width="0.5"/><text x="159.1" y="241.6" font-size="11" text-anchor="start" >0.73 − 1.08</text><rect x="22.60" y="249.35" width="27.90" height="13.90" fill="#3264f0" stroke="#8c8c8c" stroke-width="0.5"/><text x="55.6" y="260.6" font-size="11" text-anchor="start" >−0.56 − −0.16</text><rect x="125.30" y="249.35" width="27.90" height="13.90" fill="#ffff00" stroke="#8c8c8c" stroke-width="0.5"/><text x="159.1" y="260.6" font-size="11" text-anchor="start" >1.09 − 1.46</text><rect x="22.60" y="268.40" width="27.90" height="13.90" fill="#329bf5" stroke="#8c8c8c" stroke-width="0.5"/><text x="55.6" y="279.7" font-size="11" text-anchor="start" >−0.15 − 0.14</text><rect x="125.30" y="268.40" width="27.90" height="13.90" fill="#ffaa00" stroke="#8c8c8c" stroke-width="0.5"/><text x="159.1" y="279.7" font-size="11" text-anchor="start" >1.47 − 1.85</text><rect x="22.60" y="287.45" width="27.90" height="13.90" fill="#00ffff" stroke="#8c8c8c" stroke-width="0.5"/><text x="55.6" y="298.8" font-size="11" text-anchor="start" >0.15 − 0.41</text><rect x="125.30" y="287.45" width="27.90" height="13.90" fill="#ff6e00" stroke="#8c8c8c" stroke-width="0.5"/><text x="159.1" y="298.8" font-size="11" text-anchor="start" >1.86 − 2.28</text><rect x="22.60" y="306.50" width="27.90" height="13.90" fill="#96fab4" stroke="#8c8c8c" stroke-width="0.5"/><text x="55.6" y="317.8" font-size="11" text-anchor="start" >0.42 − 0.72</text><rect x="125.30" y="306.50" width="27.90" height="13.90" fill="#ff0000" stroke="#8c8c8c" stroke-width="0.5"/><text x="159.1" y="317.8" font-size="11" text-anchor="start" >2.29 − 3.24</text><rect x="20.3" y="326.4" width="18" height="9.2" fill="#fff" stroke="#6e6e6e" stroke-width="0.6"/><text x="42.2" y="334.4" font-size="11.2" text-anchor="start" >National boundaries</text><rect x="139.8" y="326.4" width="18.6" height="9.2" fill="url(#hatch2)" stroke="#8c8c8c" stroke-width="0.5"/><text x="162.5" y="334.4" font-size="11.2" text-anchor="start" >Background area</text><text x="475.4" y="227.5" font-size="11.4">CO<tspan font-size="7" dy="1.8">2</tspan><tspan dy="-1.8" font-size="11.4"> (Mt)</tspan></text><rect x="474.90" y="236.20" width="27.20" height="13.40" fill="#0000f0" stroke="#8c8c8c" stroke-width="0.5"/><text x="506.1" y="247.0" font-size="10.8" text-anchor="start" >0.00 − 0.10</text><rect x="559.70" y="236.20" width="27.20" height="13.40" fill="#c8fa64" stroke="#8c8c8c" stroke-width="0.5"/><text x="591.4" y="247.0" font-size="10.8" text-anchor="start" >1.70 − 2.68</text><rect x="474.90" y="254.17" width="27.20" height="13.40" fill="#3264f0" stroke="#8c8c8c" stroke-width="0.5"/><text x="506.1" y="265.0" font-size="10.8" text-anchor="start" >0.11 − 0.31</text><rect x="559.70" y="254.17" width="27.20" height="13.40" fill="#ffff00" stroke="#8c8c8c" stroke-width="0.5"/><text x="591.4" y="265.0" font-size="10.8" text-anchor="start" >2.69 − 4.01</text><rect x="474.90" y="272.14" width="27.20" height="13.40" fill="#329bf5" stroke="#8c8c8c" stroke-width="0.5"/><text x="506.1" y="282.9" font-size="10.8" text-anchor="start" >0.32 − 0.65</text><rect x="559.70" y="272.14" width="27.20" height="13.40" fill="#ffaa00" stroke="#8c8c8c" stroke-width="0.5"/><text x="591.4" y="282.9" font-size="10.8" text-anchor="start" >4.02 − 5.67</text><rect x="474.90" y="290.11" width="27.20" height="13.40" fill="#00ffff" stroke="#8c8c8c" stroke-width="0.5"/><text x="506.1" y="300.9" font-size="10.8" text-anchor="start" >0.66 − 1.10</text><rect x="559.70" y="290.11" width="27.20" height="13.40" fill="#ff6e00" stroke="#8c8c8c" stroke-width="0.5"/><text x="591.4" y="300.9" font-size="10.8" text-anchor="start" >5.68 − 10.10</text><rect x="474.90" y="308.08" width="27.20" height="13.40" fill="#96fab4" stroke="#8c8c8c" stroke-width="0.5"/><text x="506.1" y="318.9" font-size="10.8" text-anchor="start" >1.11 − 1.69</text><rect x="559.70" y="308.08" width="27.20" height="13.40" fill="#ff0000" stroke="#8c8c8c" stroke-width="0.5"/><text x="591.4" y="318.9" font-size="10.8" text-anchor="start" >10.11 − 17.70</text><rect x="475.4" y="327.2" width="25.7" height="12.9" fill="#fff" stroke="#6e6e6e" stroke-width="0.6"/><text x="506.1" y="338.5" font-size="12.7" text-anchor="start" >National boundaries</text><rect x="252.1" y="613.70" width="21.6" height="10.3" fill="#ffff64" stroke="#8c8c8c" stroke-width="0.5"/><text x="277.8" y="622.7" font-size="11" text-anchor="start" >Cropland areas</text><rect x="252.1" y="629.98" width="21.6" height="10.3" fill="#0aa00a" stroke="#8c8c8c" stroke-width="0.5"/><text x="277.8" y="639.0" font-size="11" text-anchor="start" >Vegetation areas</text><rect x="252.1" y="646.26" width="21.6" height="10.3" fill="#c81400" stroke="#8c8c8c" stroke-width="0.5"/><text x="277.8" y="655.3" font-size="11" text-anchor="start" >Urban areas</text><rect x="252.1" y="662.54" width="21.6" height="10.3" fill="#fff0d2" stroke="#8c8c8c" stroke-width="0.5"/><text x="277.8" y="671.5" font-size="11" text-anchor="start" >Bare areas</text><rect x="252.1" y="678.82" width="21.6" height="10.3" fill="#0046c8" stroke="#8c8c8c" stroke-width="0.5"/><text x="277.8" y="687.8" font-size="11" text-anchor="start" >Water bodies</text><rect x="252.1" y="695.10" width="21.6" height="10.3" fill="#ffffff" stroke="#8c8c8c" stroke-width="0.5"/><text x="277.8" y="704.1" font-size="11" text-anchor="start" >Permanent snow and ice</text><text x="214.0" y="383.9" font-size="18.5" text-anchor="middle">(<tspan font-weight="bold">a</tspan>)</text><text x="661.8" y="383.9" font-size="18.5" text-anchor="middle">(<tspan font-weight="bold">b</tspan>)</text><text x="435.9" y="772.5" font-size="18.5" text-anchor="middle">(<tspan font-weight="bold">c</tspan>)</text>
</svg></body></html>
